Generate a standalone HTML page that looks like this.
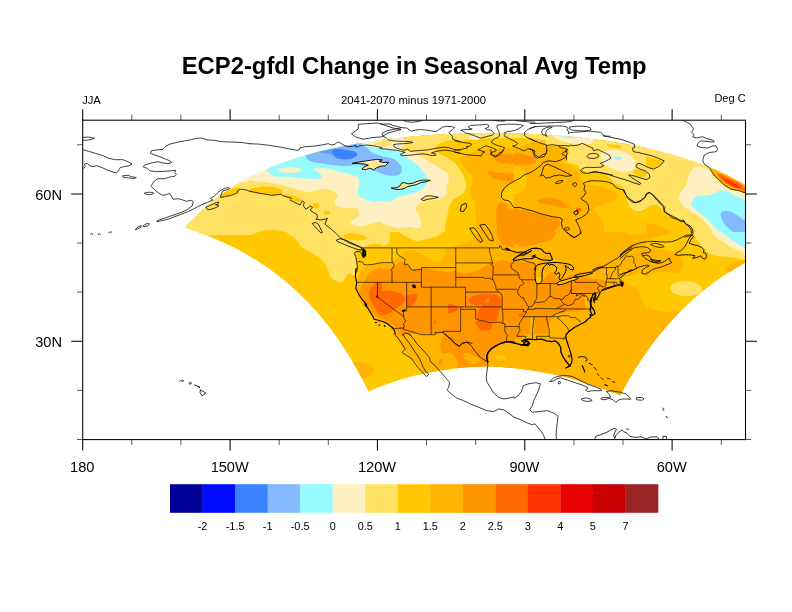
<!DOCTYPE html>
<html><head><meta charset="utf-8"><title>ECP2-gfdl Change in Seasonal Avg Temp</title>
<style>
html,body{margin:0;padding:0;background:#fff;}
body{width:792px;height:612px;overflow:hidden;position:relative;font-family:"Liberation Sans",sans-serif;color:#000;}
svg{position:absolute;left:0;top:0;will-change:transform;}
text{font-family:"Liberation Sans",sans-serif;fill:#000;}
</style></head><body>
<svg width="792" height="612" viewBox="0 0 792 612">
<rect width="792" height="612" fill="#fff"/>
<defs><clipPath id="clip"><rect x="82.7" y="120.2" width="662.8" height="319.4"/></clipPath></defs>
<g clip-path="url(#clip)">
<defs><clipPath id="dom"><path d="M184.5 227.6L188.7 222.9L193.1 218.3L197.8 213.7L202.8 209.1L208.1 204.5L213.7 200.0L219.7 195.5L226.1 191.0L232.9 186.6L240.1 182.3L247.8 178.1L256.1 173.9L264.9 169.9L274.4 165.9L284.5 162.1L295.3 158.4L306.8 154.9L319.1 151.6L332.2 148.5L346.2 145.6L360.9 142.9L376.5 140.6L392.8 138.5L409.8 136.7L427.5 135.3L445.6 134.2L464.2 133.4L483.0 133.1L501.8 133.1L520.6 133.6L539.1 134.4L557.2 135.5L574.7 137.0L591.6 138.9L607.7 141.0L623.1 143.5L637.7 146.2L651.4 149.1L664.3 152.3L676.5 155.7L687.9 159.2L698.5 162.9L708.5 166.8L717.8 170.7L726.5 174.8L734.6 179.0L742.3 183.2L749.4 187.6L756.1 192.0L762.4 196.4L768.3 200.9L773.9 205.5L779.1 210.0L784.0 214.6L788.7 219.3L793.0 223.9L797.2 228.6L801.1 233.2L804.8 237.9L804.8 237.9L799.1 239.7L793.5 241.6L788.0 243.5L782.6 245.5L777.4 247.6L772.3 249.7L767.2 251.9L762.3 254.1L757.6 256.4L752.9 258.7L748.3 261.1L743.9 263.5L739.5 265.9L735.3 268.4L731.2 270.9L727.1 273.5L723.2 276.1L719.4 278.7L715.7 281.3L712.0 284.0L708.5 286.7L705.0 289.4L701.6 292.1L698.4 294.8L695.1 297.6L692.0 300.4L689.0 303.1L686.0 305.9L683.1 308.8L680.3 311.6L677.5 314.4L674.8 317.2L672.2 320.1L669.6 322.9L667.1 325.8L664.7 328.6L662.3 331.5L660.0 334.3L657.7 337.2L655.5 340.0L653.3 342.9L651.2 345.7L649.2 348.5L647.1 351.4L645.2 354.2L643.2 357.0L641.3 359.9L639.5 362.7L637.7 365.5L635.9 368.3L634.2 371.1L632.5 373.9L630.8 376.7L629.2 379.4L627.6 382.2L626.1 384.9L624.5 387.7L623.1 390.4L621.6 393.1L620.5 395.4L615.4 393.5L610.2 391.7L605.1 389.8L599.9 387.9L594.8 386.1L589.6 384.5L584.5 382.8L579.3 381.2L574.2 379.6L569.0 378.0L563.9 376.6L558.7 375.5L553.6 374.5L548.4 373.6L543.3 372.7L538.1 371.8L533.0 370.9L527.9 370.1L522.7 369.4L517.6 368.7L512.4 368.1L507.3 367.5L502.1 366.9L497.0 366.5L491.8 366.3L486.7 366.3L481.5 366.5L476.4 366.7L471.2 367.0L466.1 367.3L460.9 367.7L455.8 368.2L450.7 368.9L445.5 369.7L440.4 370.5L435.2 371.4L430.1 372.3L424.9 373.4L419.8 374.5L414.6 375.8L409.5 377.1L404.3 378.6L399.2 380.1L394.0 381.8L388.9 383.5L383.7 385.3L378.6 387.3L373.4 389.3L368.3 391.4L367.5 389.3L366.1 386.5L364.7 383.7L363.2 380.9L361.7 378.1L360.2 375.3L358.7 372.5L357.1 369.6L355.4 366.7L353.8 363.9L352.1 361.0L350.3 358.1L348.6 355.2L346.8 352.3L344.9 349.4L343.0 346.5L341.0 343.5L339.0 340.6L337.0 337.7L334.9 334.7L332.7 331.8L330.5 328.8L328.3 325.9L325.9 322.9L323.6 320.0L321.1 317.0L318.6 314.1L316.1 311.1L313.4 308.2L310.7 305.3L308.0 302.3L305.1 299.4L302.2 296.5L299.2 293.6L296.1 290.7L292.9 287.8L289.7 284.9L286.3 282.1L282.9 279.2L279.3 276.4L275.7 273.6L272.0 270.9L268.1 268.1L264.2 265.4L260.1 262.7L256.0 260.1L251.7 257.4L247.3 254.8L242.8 252.3L238.1 249.8L233.4 247.3L228.5 244.9L223.4 242.5L218.3 240.2L213.0 238.0L207.6 235.8L202.0 233.6L196.3 231.5L190.4 229.5L184.5 227.6Z"/></clipPath>
<clipPath id="t0"><rect x="118" y="130" width="132" height="102"/></clipPath>
<clipPath id="t1"><rect x="118" y="232" width="132" height="102"/></clipPath>
<clipPath id="t2"><rect x="250" y="130" width="132" height="102"/></clipPath>
<clipPath id="t3"><rect x="250" y="232" width="132" height="102"/></clipPath>
<clipPath id="t4"><rect x="250" y="334" width="132" height="102"/></clipPath>
<clipPath id="t5"><rect x="382" y="130" width="132" height="102"/></clipPath>
<clipPath id="t6"><rect x="382" y="232" width="132" height="102"/></clipPath>
<clipPath id="t7"><rect x="382" y="334" width="132" height="102"/></clipPath>
<clipPath id="t8"><rect x="514" y="130" width="132" height="102"/></clipPath>
<clipPath id="t9"><rect x="514" y="232" width="132" height="102"/></clipPath>
<clipPath id="t10"><rect x="514" y="334" width="132" height="102"/></clipPath>
<clipPath id="t11"><rect x="646" y="130" width="132" height="102"/></clipPath>
<clipPath id="t12"><rect x="646" y="232" width="132" height="102"/></clipPath>
<clipPath id="t13"><rect x="646" y="334" width="132" height="102"/></clipPath>
<clipPath id="t14"><rect x="82" y="130" width="132" height="102"/></clipPath>
<clipPath id="t15"><rect x="82" y="340" width="132" height="102"/></clipPath>
<clipPath id="t16"><rect x="290" y="170" width="132" height="102"/></clipPath>
<clipPath id="t17"><rect x="278" y="118" width="198" height="153"/></clipPath>
<clipPath id="t18"><rect x="345" y="150" width="100" height="51"/></clipPath>
<clipPath id="t19"><rect x="340" y="270" width="132" height="102"/></clipPath>
<clipPath id="t20"><rect x="380" y="120" width="80" height="62"/></clipPath>
<clipPath id="t21"><rect x="400" y="125" width="264" height="204"/></clipPath>
<clipPath id="t22"><rect x="455" y="120" width="80" height="62"/></clipPath>
<clipPath id="t23"><rect x="484" y="150" width="132" height="102"/></clipPath>
<clipPath id="t24"><rect x="500" y="232" width="132" height="102"/></clipPath>
<clipPath id="t25"><rect x="505" y="240" width="99" height="50"/></clipPath>
<clipPath id="t26"><rect x="530" y="120" width="80" height="62"/></clipPath>
<clipPath id="t27"><rect x="530" y="400" width="160" height="124"/></clipPath>
<clipPath id="t28"><rect x="570" y="135" width="80" height="62"/></clipPath>
<clipPath id="t29"><rect x="590" y="135" width="132" height="102"/></clipPath>
<clipPath id="t30"><rect x="620" y="190" width="132" height="102"/></clipPath>
</defs>
<g clip-path="url(#dom)">
<g clip-path="url(#t0)">
<rect x="117.5" y="129.5" width="133.0" height="103.0" fill="#ffe164"/>
<path d="M221.3 194.2C222.6 193.1 225.8 191.8 228.0 190.8C230.2 189.9 232.7 188.9 234.7 188.3C236.6 187.8 239.1 186.8 239.7 187.5C240.2 188.2 239.4 191.2 238.0 192.5C236.6 193.8 233.6 194.6 231.3 195.3C229.1 196.0 226.5 196.3 224.7 196.7C222.9 197.0 221.1 197.9 220.5 197.5C219.9 197.1 220.1 195.3 221.3 194.2Z" fill="#ffc800"/>
<path d="M241.3 180.0C242.2 179.0 247.2 177.6 250.0 176.7C252.8 175.7 256.7 173.9 258.0 174.2C259.3 174.4 259.3 177.4 258.0 178.3C256.7 179.3 252.2 179.3 250.0 180.0C247.8 180.7 246.1 182.5 244.7 182.5C243.2 182.5 240.4 181.0 241.3 180.0Z" fill="#fff0c3"/>
</g>
<g clip-path="url(#t1)">
<rect x="117.5" y="231.5" width="133.0" height="103.0" fill="#ffc800"/>
<path d="M184.7 225.3C194.7 224.4 245.8 223.7 258.0 225.3C270.2 226.9 259.3 233.4 258.0 235.0C256.7 236.6 254.4 235.0 250.0 235.0C245.6 235.0 236.7 235.0 231.3 235.0C226.0 235.0 221.9 235.0 218.0 235.0C214.1 235.0 211.3 235.6 208.0 235.0C204.7 234.4 201.9 232.8 198.0 231.2C194.1 229.6 174.7 226.3 184.7 225.3Z" fill="#ffe164"/>
</g>
<g clip-path="url(#t2)">
<rect x="249.5" y="129.5" width="133.0" height="103.0" fill="#ffe164"/>
<path d="M246.7 188.3C248.3 187.7 253.9 188.3 256.7 188.0C259.4 187.7 260.8 186.6 263.3 186.3C265.8 186.1 268.9 186.3 271.7 186.7C274.4 187.1 278.2 187.8 280.0 188.7C281.8 189.5 282.4 190.7 282.5 191.7C282.6 192.7 282.6 194.0 280.8 194.7C279.0 195.3 275.1 195.8 271.7 195.7C268.2 195.6 264.2 194.7 260.0 194.0C255.8 193.3 248.9 192.6 246.7 191.7C244.4 190.7 245.0 188.9 246.7 188.3Z" fill="#ffc800"/>
<path d="M282.5 195.0C283.3 194.6 288.8 194.9 291.7 195.5C294.6 196.1 298.3 197.7 300.0 198.8C301.7 199.9 302.8 201.6 302.0 202.0C301.2 202.4 297.6 201.8 295.0 201.2C292.4 200.5 288.8 199.0 286.7 198.0C284.6 197.0 281.7 195.4 282.5 195.0Z" fill="#ffc800"/>
<path d="M319.2 205.7C319.2 206.3 318.9 207.0 318.5 207.4C318.1 207.9 317.5 208.3 316.9 208.5C316.2 208.7 315.4 208.7 314.8 208.5C314.2 208.3 313.5 207.9 313.1 207.4C312.8 207.0 312.5 206.3 312.5 205.7C312.5 205.1 312.8 204.4 313.1 203.9C313.5 203.4 314.2 203.0 314.8 202.8C315.4 202.6 316.2 202.6 316.9 202.8C317.5 203.0 318.1 203.4 318.5 203.9C318.9 204.4 319.2 205.1 319.2 205.7Z" fill="#ffc800"/>
<path d="M330.0 212.7C330.0 213.1 329.7 213.5 329.4 213.8C329.0 214.2 328.3 214.4 327.7 214.6C327.1 214.7 326.3 214.7 325.6 214.6C325.0 214.4 324.4 214.2 324.0 213.8C323.6 213.5 323.3 213.1 323.3 212.7C323.3 212.3 323.6 211.8 324.0 211.5C324.4 211.2 325.0 210.9 325.6 210.8C326.3 210.6 327.1 210.6 327.7 210.8C328.3 210.9 329.0 211.2 329.4 211.5C329.7 211.8 330.0 212.3 330.0 212.7Z" fill="#ffc800"/>
<path d="M256.7 234.2C253.5 233.5 263.1 230.6 266.7 230.0C270.3 229.4 275.1 229.8 278.3 230.5C281.5 231.2 289.4 233.6 285.8 234.2C282.2 234.8 259.9 234.9 256.7 234.2Z" fill="#ffc800"/>
<path d="M243.3 180.5C244.4 190.0 246.7 180.2 250.0 180.5C253.3 180.8 259.2 181.5 263.3 182.0C267.5 182.5 271.1 182.9 275.0 183.7C278.9 184.4 282.8 185.3 286.7 186.3C290.6 187.3 294.7 188.7 298.3 189.7C301.9 190.6 305.6 191.8 308.3 192.0C311.1 192.2 313.1 191.3 315.0 190.8C316.9 190.4 317.8 189.4 320.0 189.2C322.2 189.0 325.8 189.1 328.3 189.7C330.8 190.2 333.5 191.2 335.0 192.5C336.5 193.8 337.6 196.0 337.5 197.5C337.4 199.0 334.3 200.3 334.2 201.7C334.0 203.1 334.9 204.7 336.7 205.8C338.5 206.9 342.2 208.1 345.0 208.3C347.8 208.6 351.2 207.4 353.3 207.5C355.4 207.6 356.5 207.9 357.5 209.2C358.5 210.4 359.7 213.3 359.2 215.0C358.6 216.7 355.7 218.1 354.2 219.2C352.6 220.3 349.9 220.6 350.0 221.7C350.1 222.7 353.3 224.6 355.0 225.3C356.7 226.1 357.3 226.6 360.0 226.3C362.7 226.1 368.1 224.4 371.3 223.7C374.5 222.9 377.4 222.2 379.2 222.0C380.9 221.8 380.2 222.4 382.0 222.7C383.8 222.9 388.7 239.9 390.0 223.3C391.3 206.8 414.4 140.0 390.0 123.3C365.6 106.7 267.8 113.8 243.3 123.3C218.9 132.9 242.2 171.0 243.3 180.5Z" fill="#fff0c3"/>
<path d="M266.7 163.3C266.7 171.0 266.1 167.8 266.7 169.5C267.2 171.2 268.6 172.5 270.0 173.7C271.4 174.9 271.9 176.2 275.0 176.7C278.1 177.2 284.2 176.4 288.3 176.7C292.5 176.9 295.8 177.9 300.0 178.3C304.2 178.8 309.9 179.2 313.3 179.2C316.8 179.1 319.5 178.8 320.8 178.0C322.2 177.2 322.0 175.8 321.3 174.7C320.6 173.5 318.1 172.0 316.7 171.2C315.3 170.3 313.0 170.1 313.0 169.7C313.0 169.2 314.4 168.5 316.7 168.3C318.9 168.2 322.8 168.1 326.7 168.7C330.6 169.2 336.1 170.8 340.0 171.7C343.9 172.6 347.1 173.2 350.0 174.2C352.9 175.1 356.0 176.0 357.5 177.5C359.0 179.0 359.2 181.0 359.2 183.3C359.2 185.7 357.4 189.4 357.5 191.7C357.6 193.9 358.5 195.3 360.0 196.7C361.5 198.1 364.4 199.1 366.7 200.0C368.9 200.9 370.8 201.9 373.3 202.0C375.9 202.1 379.2 201.0 382.0 200.8C384.8 200.6 388.7 213.7 390.0 200.8C391.3 187.9 410.6 136.2 390.0 123.3C369.4 110.4 287.2 116.7 266.7 123.3C246.1 130.0 266.7 155.6 266.7 163.3Z" fill="#96faff"/>
<path d="M301.7 170.2C301.7 170.6 301.1 171.2 300.1 171.6C299.1 172.0 297.5 172.4 295.8 172.6C294.1 172.9 291.9 173.0 290.0 173.0C288.1 173.0 285.9 172.9 284.2 172.6C282.5 172.4 280.9 172.0 279.9 171.6C278.9 171.2 278.3 170.6 278.3 170.2C278.3 169.7 278.9 169.2 279.9 168.8C280.9 168.3 282.5 167.9 284.2 167.7C285.9 167.5 288.1 167.3 290.0 167.3C291.9 167.3 294.1 167.5 295.8 167.7C297.5 167.9 299.1 168.3 300.1 168.8C301.1 169.2 301.7 169.7 301.7 170.2Z" fill="#fff0c3"/>
<path d="M305.8 146.7C305.8 152.2 305.4 154.2 305.8 156.3C306.2 158.5 307.1 158.7 308.3 159.7C309.6 160.6 311.1 161.4 313.3 162.0C315.6 162.6 318.9 162.9 321.7 163.3C324.4 163.8 326.9 164.2 330.0 164.7C333.1 165.1 336.7 165.6 340.0 165.8C343.3 166.0 347.2 166.1 350.0 165.8C352.8 165.6 354.4 164.2 356.7 164.2C358.9 164.2 361.1 165.0 363.3 165.8C365.6 166.7 367.8 168.2 370.0 169.2C372.2 170.1 374.7 170.9 376.7 171.7C378.7 172.4 379.8 173.3 382.0 173.7C384.2 174.0 388.7 176.6 390.0 173.7C391.3 170.7 391.3 158.8 390.0 155.8C388.7 152.9 383.9 156.0 382.0 155.8C380.1 155.7 380.1 155.6 378.3 155.0C376.6 154.4 373.6 153.8 371.7 152.5C369.7 151.2 368.3 149.0 366.7 147.5C365.0 146.0 362.5 147.7 361.7 143.7C360.8 139.6 371.0 126.7 361.7 123.3C352.4 119.9 315.1 119.4 305.8 123.3C296.5 127.2 305.8 141.2 305.8 146.7Z" fill="#82b9ff"/>
<path d="M363.3 140.0C363.3 143.5 362.2 143.0 363.3 144.2C364.4 145.3 367.8 146.4 370.0 147.0C372.2 147.6 374.7 147.7 376.7 147.7C378.7 147.6 379.8 146.8 382.0 146.7C384.2 146.5 388.7 150.6 390.0 146.7C391.3 142.8 394.4 127.2 390.0 123.3C385.6 119.4 367.8 120.6 363.3 123.3C358.9 126.1 363.3 136.5 363.3 140.0Z" fill="#fff0c3"/>
<path d="M373.3 144.5C373.3 144.0 375.2 142.9 376.7 142.3C378.1 141.8 379.8 141.6 382.0 141.3C384.2 141.1 388.7 140.2 390.0 141.0C391.3 141.8 391.3 145.1 390.0 145.8C388.7 146.6 384.2 145.4 382.0 145.3C379.8 145.2 378.1 145.5 376.7 145.3C375.2 145.2 373.3 145.0 373.3 144.5Z" fill="#ffe164"/>
<path d="M319.2 152.0C319.3 151.4 324.0 150.6 326.3 150.2C328.7 149.7 331.0 149.3 333.3 149.2C335.7 149.0 338.0 149.2 340.3 149.3C342.7 149.5 345.3 149.9 347.5 150.2C349.7 150.5 351.9 150.6 353.5 151.2C355.1 151.8 356.8 152.8 357.2 153.7C357.5 154.6 356.8 155.8 355.7 156.7C354.6 157.5 352.6 158.2 350.5 158.7C348.4 159.1 345.5 159.2 343.3 159.2C341.1 159.1 338.8 158.7 337.3 158.2C335.8 157.7 335.3 156.8 334.3 156.2C333.3 155.5 332.8 154.6 331.3 154.2C329.8 153.8 327.4 154.0 325.3 153.7C323.3 153.3 319.0 152.6 319.2 152.0Z" fill="#5f9cff"/>
<path d="M333.3 149.3C334.6 148.8 338.0 149.2 340.3 149.3C342.7 149.5 345.3 149.9 347.5 150.2C349.7 150.5 351.9 150.6 353.5 151.2C355.1 151.8 356.8 152.8 357.2 153.7C357.5 154.6 356.8 155.8 355.7 156.7C354.6 157.5 352.6 158.2 350.5 158.7C348.4 159.1 345.5 159.2 343.3 159.2C341.1 159.1 338.8 158.7 337.3 158.2C335.8 157.6 335.1 156.8 334.3 155.8C333.5 154.9 332.7 153.6 332.5 152.5C332.3 151.4 332.0 149.9 333.3 149.3Z" fill="#3c82ff"/>
</g>
<g clip-path="url(#t3)">
<rect x="249.5" y="231.5" width="133.0" height="103.0" fill="#ffc800"/>
<path d="M243.3 225.3C218.9 226.9 242.2 233.4 243.3 235.0C244.4 236.6 248.1 235.2 250.0 235.0C251.9 234.8 253.6 234.3 255.0 233.7C256.4 233.0 257.8 232.6 258.3 231.2C258.9 229.8 253.7 226.3 258.3 225.3C262.9 224.4 281.2 224.4 285.8 225.3C290.4 226.3 285.1 229.6 285.8 231.2C286.5 232.8 288.2 233.5 290.0 235.0C291.8 236.5 294.7 238.0 296.7 240.0C298.6 242.0 299.4 245.0 301.7 247.0C303.9 249.0 307.2 250.3 310.0 252.0C312.8 253.7 315.8 255.1 318.3 257.0C320.8 258.9 323.3 261.4 325.0 263.7C326.7 265.9 327.5 268.1 328.3 270.3C329.2 272.6 328.9 275.3 330.0 277.0C331.1 278.7 333.2 279.4 335.0 280.3C336.8 281.3 339.3 282.8 340.8 282.8C342.4 282.8 343.2 281.6 344.2 280.3C345.1 279.1 345.7 276.4 346.7 275.3C347.6 274.2 348.8 273.6 350.0 273.7C351.2 273.7 353.3 276.2 354.2 275.7C355.1 275.1 354.9 272.6 355.3 270.3C355.8 268.1 356.7 264.8 356.7 262.0C356.7 259.2 355.8 255.5 355.3 253.7C354.8 251.9 352.9 252.0 353.7 251.2C354.4 250.3 358.1 249.4 360.0 248.7C361.9 248.0 363.3 247.7 365.0 247.0C366.7 246.3 368.1 245.1 370.0 244.5C371.9 243.9 374.7 243.7 376.7 243.7C378.7 243.7 379.8 244.4 382.0 244.5C384.2 244.6 388.7 247.7 390.0 244.5C391.3 241.3 414.4 228.5 390.0 225.3C365.6 222.1 267.8 223.7 243.3 225.3Z" fill="#ffe164"/>
<path d="M343.3 235.3C344.2 234.4 347.2 233.5 350.0 233.3C352.8 233.2 357.2 233.8 360.0 234.5C362.8 235.2 366.1 236.9 366.7 237.8C367.2 238.8 365.6 240.0 363.3 240.3C361.1 240.7 356.4 240.3 353.3 240.0C350.3 239.7 346.7 239.4 345.0 238.7C343.3 237.9 342.5 236.2 343.3 235.3Z" fill="#ffc800"/>
<path d="M390.0 262.0C388.7 251.7 384.8 262.4 382.0 262.8C379.2 263.2 376.2 263.7 373.3 264.5C370.5 265.3 367.2 266.4 365.0 267.8C362.8 269.2 361.2 271.0 360.0 272.8C358.8 274.6 358.1 276.3 357.5 278.7C356.9 281.0 356.7 284.2 356.7 287.0C356.7 289.8 356.8 292.8 357.5 295.3C358.2 297.8 359.3 299.5 360.8 302.0C362.4 304.5 364.6 307.6 366.7 310.3C368.8 313.1 371.4 316.6 373.3 318.7C375.3 320.8 376.9 322.0 378.3 322.8C379.8 323.7 380.1 323.4 382.0 323.7C383.9 323.9 388.7 334.8 390.0 324.5C391.3 314.2 391.3 272.3 390.0 262.0Z" fill="#ffb400"/>
<path d="M390.0 267.3C388.7 258.6 384.5 267.5 382.0 267.8C379.5 268.2 377.3 268.5 375.0 269.5C372.7 270.5 370.0 271.9 368.3 273.7C366.7 275.5 366.1 278.4 365.0 280.3C363.9 282.3 362.5 283.4 361.7 285.3C360.8 287.3 359.9 289.8 360.0 292.0C360.1 294.2 361.4 296.4 362.5 298.7C363.6 300.9 365.1 303.1 366.7 305.3C368.2 307.6 370.0 310.1 371.7 312.0C373.3 313.9 374.9 315.8 376.7 317.0C378.4 318.2 379.8 318.9 382.0 319.5C384.2 320.1 388.7 329.0 390.0 320.3C391.3 311.6 391.3 276.1 390.0 267.3Z" fill="#ff9600"/>
<path d="M390.0 281.7C388.7 276.0 384.2 281.8 382.0 282.0C379.8 282.2 378.4 282.0 376.7 282.8C374.9 283.7 372.9 285.5 371.7 287.0C370.4 288.5 369.4 290.1 369.2 292.0C368.9 293.9 369.3 296.4 370.0 298.7C370.7 300.9 372.1 303.1 373.3 305.3C374.6 307.6 376.1 310.3 377.5 312.0C378.9 313.7 379.9 314.6 382.0 315.3C384.1 316.0 388.7 321.8 390.0 316.2C391.3 310.6 391.3 287.4 390.0 281.7Z" fill="#ff6900"/>
</g>
<g clip-path="url(#t4)">
<rect x="249.5" y="333.5" width="133.0" height="103.0" fill="#ffc800"/>
<path d="M350.0 362.3C351.7 361.0 359.9 362.2 363.3 362.7C366.8 363.1 369.0 363.6 370.8 364.8C372.6 366.0 374.0 368.2 374.2 369.8C374.3 371.5 373.2 373.5 371.7 374.8C370.1 376.1 367.2 376.8 365.0 377.7C362.8 378.5 360.3 381.0 358.3 379.8C356.4 378.7 354.7 373.6 353.3 370.7C351.9 367.8 348.3 363.7 350.0 362.3Z" fill="#ffb400"/>
</g>
<g clip-path="url(#t5)">
<rect x="381.5" y="129.5" width="133.0" height="103.0" fill="#ffb400"/>
<path d="M495.3 155.0C497.2 154.3 502.2 154.2 505.3 154.2C508.4 154.2 511.2 154.9 514.0 155.0C516.8 155.1 520.7 153.5 522.0 155.0C523.3 156.5 523.3 162.6 522.0 164.2C520.7 165.7 516.8 164.3 514.0 164.2C511.2 164.0 508.2 163.8 505.3 163.3C502.5 162.9 498.9 162.5 497.0 161.7C495.1 160.8 494.3 159.4 494.0 158.3C493.7 157.2 493.4 155.7 495.3 155.0Z" fill="#ff9600"/>
<path d="M488.7 171.7C490.2 171.1 494.4 172.1 498.7 172.5C502.9 172.9 510.1 173.9 514.0 174.2C517.9 174.4 520.7 172.9 522.0 174.2C523.3 175.5 523.3 180.8 522.0 182.0C520.7 183.2 516.8 181.9 514.0 181.7C511.2 181.5 508.4 181.2 505.3 180.8C502.2 180.4 498.0 180.0 495.3 179.2C492.7 178.3 490.6 177.1 489.5 175.8C488.4 174.6 487.1 172.2 488.7 171.7Z" fill="#ff9600"/>
<path d="M498.7 203.3C500.2 201.7 503.7 202.5 505.3 203.3C507.0 204.2 507.2 207.2 508.7 208.3C510.1 209.4 511.8 209.7 514.0 210.0C516.2 210.3 520.7 205.3 522.0 210.0C523.3 214.7 526.2 233.6 522.0 238.3C517.8 243.1 501.2 239.4 497.0 238.3C492.8 237.3 497.1 234.5 497.0 232.0C496.9 229.5 496.8 226.4 496.7 223.3C496.5 220.2 495.8 216.7 496.2 213.3C496.5 210.0 497.1 205.0 498.7 203.3Z" fill="#ff9600"/>
<path d="M522.0 180.0C520.7 175.6 516.2 180.0 514.0 180.8C511.8 181.7 510.4 183.5 508.7 185.0C506.9 186.5 504.9 188.3 503.7 190.0C502.4 191.7 501.3 193.3 501.2 195.0C501.0 196.7 501.6 198.6 502.8 200.0C504.1 201.4 506.8 202.2 508.7 203.3C510.5 204.4 511.8 206.0 514.0 206.7C516.2 207.4 520.7 211.9 522.0 207.5C523.3 203.1 523.3 184.4 522.0 180.0Z" fill="#ffc800"/>
<path d="M522.0 123.3C546.4 127.4 523.3 143.8 522.0 148.0C520.7 152.2 517.9 148.2 514.0 148.3C510.1 148.4 503.4 148.4 498.7 148.7C493.9 148.9 489.2 149.2 485.3 149.7C481.4 150.2 478.7 150.8 475.3 151.7C472.0 152.6 467.8 153.8 465.3 155.0C462.8 156.2 460.6 157.2 460.3 159.2C460.1 161.1 462.0 164.3 463.7 166.7C465.3 169.0 468.8 171.1 470.3 173.3C471.9 175.6 472.8 177.5 472.8 180.0C472.8 182.5 470.5 185.6 470.3 188.3C470.2 191.1 471.2 194.2 472.0 196.7C472.8 199.2 474.8 200.6 475.3 203.3C475.9 206.1 475.2 210.0 475.3 213.3C475.5 216.7 476.2 220.2 476.2 223.3C476.2 226.4 475.5 229.5 475.3 232.0C475.2 234.5 492.0 237.3 475.3 238.3C458.7 239.4 392.0 257.5 375.3 238.3C358.7 219.2 350.9 142.5 375.3 123.3C399.8 104.2 497.6 119.2 522.0 123.3Z" fill="#ffc800"/>
<path d="M522.0 123.3C546.4 125.7 523.3 135.1 522.0 137.5C520.7 139.9 517.9 137.9 514.0 138.0C510.1 138.1 503.4 138.2 498.7 138.3C493.9 138.4 489.2 138.5 485.3 138.7C481.4 138.8 478.7 138.9 475.3 139.2C472.0 139.4 469.2 140.1 465.3 140.3C461.4 140.5 455.6 140.1 452.0 140.3C448.4 140.6 446.0 140.9 443.7 141.7C441.3 142.4 439.2 143.8 437.8 145.0C436.4 146.2 435.2 147.8 435.3 149.2C435.5 150.6 436.7 151.9 438.7 153.3C440.6 154.7 444.2 155.8 447.0 157.5C449.8 159.2 453.0 161.0 455.3 163.3C457.7 165.7 459.5 168.9 461.2 171.7C462.8 174.4 464.5 177.4 465.3 180.0C466.2 182.6 466.7 185.1 466.2 187.5C465.6 189.9 464.1 192.2 462.0 194.2C459.9 196.1 455.8 197.4 453.7 199.2C451.6 201.0 450.5 202.6 449.5 205.0C448.5 207.4 448.5 210.3 447.8 213.3C447.2 216.4 446.1 220.2 445.7 223.3C445.2 226.4 445.1 229.5 445.0 232.0C444.9 234.5 456.6 237.3 445.0 238.3C433.4 239.4 386.9 257.5 375.3 238.3C363.7 219.2 350.9 142.5 375.3 123.3C399.8 104.2 497.6 121.0 522.0 123.3Z" fill="#ffe164"/>
<path d="M481.3 137.7C481.3 138.1 480.9 138.7 480.1 139.0C479.4 139.4 478.1 139.7 477.0 139.9C475.8 140.0 474.2 140.0 473.0 139.9C471.9 139.7 470.6 139.4 469.9 139.0C469.1 138.7 468.7 138.1 468.7 137.7C468.7 137.2 469.1 136.7 469.9 136.3C470.6 135.9 471.9 135.6 473.0 135.4C474.2 135.3 475.8 135.3 477.0 135.4C478.1 135.6 479.4 135.9 480.1 136.3C480.9 136.7 481.3 137.2 481.3 137.7Z" fill="#fff0c3"/>
<path d="M403.7 123.3C408.4 125.7 403.4 134.2 403.7 137.5C403.9 140.8 405.6 141.5 405.3 143.3C405.1 145.1 402.3 147.1 402.0 148.3C401.7 149.6 401.4 150.0 403.7 150.8C405.9 151.7 411.7 151.9 415.3 153.3C418.9 154.7 421.7 156.9 425.3 159.2C428.9 161.4 433.4 164.3 437.0 166.7C440.6 169.0 445.1 171.1 447.0 173.3C448.9 175.6 448.8 177.8 448.7 180.0C448.5 182.2 446.4 184.6 446.2 186.7C445.9 188.8 447.4 190.8 447.0 192.5C446.6 194.2 445.3 195.4 443.7 196.7C442.0 197.9 439.9 199.3 437.0 200.0C434.1 200.7 429.4 200.2 426.3 201.0C423.2 201.8 420.1 203.2 418.3 204.5C416.5 205.8 415.5 206.9 415.5 208.5C415.5 210.1 417.4 212.1 418.3 214.3C419.3 216.6 421.2 219.9 421.3 222.2C421.4 224.4 420.9 227.2 418.8 228.0C416.7 228.8 412.0 227.0 408.7 227.0C405.3 227.0 402.1 228.2 398.8 228.0C395.6 227.8 391.8 226.8 389.0 226.0C386.2 225.2 384.3 223.9 382.0 223.3C379.7 222.7 376.4 239.2 375.3 222.5C374.2 205.8 370.6 139.9 375.3 123.3C380.1 106.8 398.9 121.0 403.7 123.3Z" fill="#fff0c3"/>
<path d="M380.3 140.3C381.4 139.3 385.1 139.6 387.0 140.0C388.9 140.4 391.7 141.5 392.0 142.5C392.3 143.5 390.6 145.2 388.7 145.8C386.7 146.5 381.7 147.2 380.3 146.3C378.9 145.4 379.2 141.4 380.3 140.3Z" fill="#ffe164"/>
<path d="M375.3 148.7C376.4 140.0 379.2 148.5 382.0 148.7C384.8 148.8 388.9 149.2 392.0 149.7C395.1 150.2 397.8 150.4 400.3 151.7C402.8 153.0 404.5 155.6 407.0 157.5C409.5 159.4 412.8 161.2 415.3 163.3C417.8 165.4 420.1 167.5 422.0 170.0C423.9 172.5 426.3 175.8 427.0 178.3C427.7 180.8 427.3 183.1 426.2 185.0C425.1 186.9 423.0 188.5 420.3 190.0C417.7 191.5 413.9 193.1 410.3 194.2C406.7 195.3 401.7 195.6 398.7 196.7C395.6 197.8 393.9 199.9 392.0 200.8C390.1 201.7 388.7 202.0 387.0 202.0C385.3 202.0 383.9 201.0 382.0 200.8C380.1 200.6 376.4 209.5 375.3 200.8C374.2 192.1 374.2 157.4 375.3 148.7Z" fill="#96faff"/>
<path d="M375.3 156.7C376.4 153.8 379.8 156.5 382.0 156.7C384.2 156.8 386.4 156.9 388.7 157.5C390.9 158.1 393.4 158.8 395.3 160.0C397.3 161.2 399.2 163.2 400.3 165.0C401.4 166.8 402.3 169.2 402.0 170.8C401.7 172.4 400.3 173.8 398.7 174.7C397.0 175.5 394.2 175.8 392.0 175.8C389.8 175.9 387.0 175.4 385.3 175.0C383.7 174.6 383.7 173.9 382.0 173.7C380.3 173.4 376.4 176.5 375.3 173.7C374.2 170.8 374.2 159.5 375.3 156.7Z" fill="#82b9ff"/>
</g>
<g clip-path="url(#t6)">
<rect x="381.5" y="231.5" width="133.0" height="103.0" fill="#ff9600"/>
<path d="M375.3 269.5C376.4 276.9 379.8 269.6 382.0 269.5C384.2 269.4 386.4 269.4 388.7 268.7C390.9 268.0 393.4 266.4 395.3 265.3C397.3 264.2 398.4 262.3 400.3 262.0C402.3 261.7 405.1 262.7 407.0 263.7C408.9 264.6 410.3 266.9 412.0 267.8C413.7 268.8 415.5 269.5 417.0 269.5C418.5 269.5 418.7 267.8 421.2 267.8C423.7 267.8 428.5 268.9 432.0 269.5C435.5 270.1 439.2 270.8 442.0 271.2C444.8 271.6 446.4 272.1 448.7 272.0C450.9 271.9 453.7 270.3 455.3 270.3C457.0 270.3 457.0 271.4 458.7 272.0C460.3 272.6 462.6 273.8 465.3 273.7C468.1 273.5 472.3 272.3 475.3 271.2C478.4 270.1 481.4 268.2 483.7 267.0C485.9 265.8 486.7 264.5 488.7 263.7C490.6 262.8 493.1 262.6 495.3 262.0C497.6 261.4 499.8 260.5 502.0 260.3C504.2 260.2 506.7 261.4 508.7 261.2C510.7 260.9 511.8 259.2 514.0 258.7C516.2 258.1 520.7 263.4 522.0 257.8C523.3 252.3 546.4 230.8 522.0 225.3C497.6 219.9 399.8 218.0 375.3 225.3C350.9 232.7 374.2 262.1 375.3 269.5Z" fill="#ffb400"/>
<path d="M375.3 262.8C376.4 269.1 379.5 263.0 382.0 262.8C384.5 262.7 388.1 262.6 390.3 262.0C392.6 261.4 393.7 260.6 395.3 259.5C397.0 258.4 398.7 256.6 400.3 255.3C402.0 254.1 403.4 252.8 405.3 252.0C407.3 251.2 410.1 250.3 412.0 250.3C413.9 250.3 415.1 251.2 417.0 252.0C418.9 252.8 421.4 254.1 423.7 255.3C425.9 256.6 428.1 258.2 430.3 259.5C432.6 260.8 435.1 262.7 437.0 262.8C438.9 263.0 440.8 261.9 442.0 260.3C443.2 258.8 443.9 255.6 444.5 253.7C445.1 251.7 444.1 249.8 445.3 248.7C446.6 247.6 449.5 247.7 452.0 247.0C454.5 246.3 457.6 245.3 460.3 244.5C463.1 243.7 466.3 243.4 468.7 242.0C471.1 240.6 473.5 238.9 474.7 236.2C475.8 233.4 492.2 227.1 475.7 225.3C459.1 223.5 392.1 219.1 375.3 225.3C358.6 231.6 374.2 256.6 375.3 262.8Z" fill="#ffc800"/>
<path d="M496.7 225.3C492.5 226.4 496.7 229.8 497.0 232.0C497.3 234.2 497.6 236.6 498.7 238.7C499.8 240.8 501.7 243.2 503.7 244.5C505.6 245.8 508.6 246.2 510.3 246.7C512.1 247.1 512.1 246.9 514.0 247.0C515.9 247.1 520.7 250.6 522.0 247.0C523.3 243.4 526.2 228.9 522.0 225.3C517.8 221.7 500.8 224.2 496.7 225.3Z" fill="#ff9600"/>
<path d="M375.3 230.3C377.6 228.0 386.3 230.1 388.7 232.0C391.0 233.9 390.1 239.8 389.5 242.0C388.9 244.2 387.7 244.6 385.3 245.3C383.0 246.0 377.0 248.7 375.3 246.2C373.7 243.7 373.1 232.7 375.3 230.3Z" fill="#ffe164"/>
<path d="M398.7 228.7C404.8 227.6 433.7 227.6 440.3 228.7C447.0 229.8 440.1 233.8 438.7 235.3C437.3 236.9 434.2 237.1 432.0 237.8C429.8 238.5 427.8 238.9 425.3 239.5C422.8 240.1 419.5 241.3 417.0 241.2C414.5 241.0 412.6 239.6 410.3 238.7C408.1 237.7 405.6 237.0 403.7 235.3C401.7 233.7 392.6 229.8 398.7 228.7Z" fill="#ffe164"/>
<path d="M375.3 291.2C376.4 287.1 379.8 291.3 382.0 291.2C384.2 291.0 386.2 290.2 388.7 290.3C391.2 290.5 394.5 291.2 397.0 292.0C399.5 292.8 402.3 293.9 403.7 295.3C405.1 296.7 405.9 298.7 405.3 300.3C404.8 302.0 402.3 303.7 400.3 305.3C398.4 307.0 395.6 308.9 393.7 310.3C391.7 311.7 390.6 312.8 388.7 313.7C386.7 314.5 384.2 315.1 382.0 315.3C379.8 315.6 376.4 319.4 375.3 315.3C374.2 311.3 374.2 295.2 375.3 291.2Z" fill="#ff6900"/>
<path d="M407.0 295.3C408.5 294.2 413.7 293.4 415.3 293.7C417.0 293.9 417.3 295.3 417.0 297.0C416.7 298.7 415.3 302.0 413.7 303.7C412.0 305.3 408.2 307.6 407.0 307.0C405.8 306.4 406.2 302.3 406.2 300.3C406.2 298.4 405.5 296.4 407.0 295.3Z" fill="#ff6900"/>
<path d="M468.7 298.7C469.6 297.4 472.6 296.2 475.3 295.3C478.1 294.5 482.0 293.8 485.3 293.7C488.7 293.5 492.8 293.8 495.3 294.5C497.8 295.2 499.4 296.0 500.3 297.8C501.3 299.6 501.4 303.0 501.2 305.3C500.9 307.7 499.4 309.5 498.7 312.0C498.0 314.5 498.7 318.5 497.0 320.3C495.3 322.1 491.4 322.7 488.7 322.8C485.9 323.0 482.3 322.1 480.3 321.2C478.4 320.2 477.3 318.8 477.0 317.0C476.7 315.2 477.8 312.3 478.7 310.3C479.5 308.4 482.6 306.2 482.0 305.3C481.4 304.5 477.4 305.8 475.3 305.3C473.2 304.9 470.6 303.9 469.5 302.8C468.4 301.7 467.7 299.9 468.7 298.7Z" fill="#ff6900"/>
<path d="M489.3 300.7C489.3 301.1 489.2 301.7 489.0 302.0C488.7 302.4 488.3 302.7 488.0 302.9C487.6 303.0 487.1 303.0 486.7 302.9C486.3 302.7 485.9 302.4 485.7 302.0C485.5 301.7 485.3 301.1 485.3 300.7C485.3 300.2 485.5 299.7 485.7 299.3C485.9 298.9 486.3 298.6 486.7 298.4C487.1 298.3 487.6 298.3 488.0 298.4C488.3 298.6 488.7 298.9 489.0 299.3C489.2 299.7 489.3 300.2 489.3 300.7Z" fill="#ff9600"/>
<path d="M476.2 321.2C477.4 320.3 482.7 321.6 485.3 322.0C488.0 322.4 491.2 322.4 492.0 323.7C492.8 324.9 492.0 328.4 490.3 329.5C488.7 330.6 484.1 330.8 482.0 330.3C479.9 329.9 478.8 328.5 477.8 327.0C476.9 325.5 474.9 322.0 476.2 321.2Z" fill="#ff6900"/>
<path d="M448.7 303.7C449.9 303.2 453.7 304.5 455.3 305.3C457.0 306.2 458.9 307.6 458.7 308.7C458.4 309.8 455.3 311.3 453.7 312.0C452.0 312.7 449.6 313.5 448.7 312.8C447.7 312.1 447.8 309.4 447.8 307.8C447.8 306.3 447.4 304.1 448.7 303.7Z" fill="#ff6900"/>
<path d="M436.2 322.3C436.2 322.7 436.1 323.2 436.0 323.5C435.9 323.8 435.7 324.1 435.6 324.2C435.4 324.4 435.2 324.4 435.1 324.2C434.9 324.1 434.8 323.8 434.7 323.5C434.6 323.2 434.5 322.7 434.5 322.3C434.5 321.9 434.6 321.5 434.7 321.2C434.8 320.8 434.9 320.6 435.1 320.4C435.2 320.3 435.4 320.3 435.6 320.4C435.7 320.6 435.9 320.8 436.0 321.2C436.1 321.5 436.2 321.9 436.2 322.3Z" fill="#ff6900"/>
<path d="M375.3 319.5C376.4 316.2 379.8 319.9 382.0 320.3C384.2 320.8 386.6 320.9 388.7 322.0C390.8 323.1 392.8 325.0 394.5 327.0C396.2 329.0 398.0 331.8 398.7 334.0C399.4 336.2 402.6 339.3 398.7 340.3C394.8 341.4 379.2 343.8 375.3 340.3C371.4 336.9 374.2 322.8 375.3 319.5Z" fill="#ffb400"/>
<path d="M375.3 322.0C376.4 319.1 379.6 322.2 382.0 323.0C384.4 323.8 388.1 325.6 390.0 326.7C391.9 327.7 392.5 327.9 393.3 329.2C394.2 330.4 394.7 332.1 395.0 334.0C395.3 335.9 398.3 339.3 395.0 340.3C391.7 341.4 378.6 343.4 375.3 340.3C372.1 337.3 374.2 324.9 375.3 322.0Z" fill="#ffc800"/>
</g>
<g clip-path="url(#t7)">
<rect x="381.5" y="333.5" width="133.0" height="103.0" fill="#ffc800"/>
<path d="M392.0 327.3C370.3 328.4 391.2 331.8 392.0 334.0C392.8 336.2 395.3 338.4 397.0 340.7C398.7 342.9 400.3 345.1 402.0 347.3C403.7 349.6 405.1 351.8 407.0 354.0C408.9 356.2 411.4 358.4 413.7 360.7C415.9 362.9 418.4 365.1 420.3 367.3C422.3 369.6 424.1 372.1 425.3 374.0C426.6 375.9 411.7 378.2 427.8 379.0C443.9 379.8 506.3 387.6 522.0 379.0C537.7 370.4 543.7 335.9 522.0 327.3C500.3 318.7 413.7 326.2 392.0 327.3Z" fill="#ffb400"/>
<path d="M443.7 327.3C430.6 328.4 444.1 331.8 443.7 334.0C443.2 336.2 441.7 338.2 441.2 340.7C440.6 343.2 439.9 346.8 440.3 349.0C440.8 351.2 442.3 353.4 443.7 354.0C445.1 354.6 447.0 352.1 448.7 352.3C450.3 352.6 452.3 354.3 453.7 355.7C455.1 357.1 456.3 359.0 457.0 360.7C457.7 362.3 457.3 363.7 457.8 365.7C458.4 367.6 449.6 371.2 460.3 372.3C471.0 373.4 511.7 379.8 522.0 372.3C532.3 364.8 535.1 334.8 522.0 327.3C508.9 319.8 456.7 326.2 443.7 327.3Z" fill="#ff9600"/>
<path d="M442.7 362.0C442.7 362.6 442.5 363.3 442.3 363.8C442.1 364.2 441.7 364.7 441.3 364.9C440.9 365.0 440.4 365.0 440.0 364.9C439.7 364.7 439.3 364.2 439.0 363.8C438.8 363.3 438.7 362.6 438.7 362.0C438.7 361.4 438.8 360.7 439.0 360.2C439.3 359.8 439.7 359.3 440.0 359.1C440.4 359.0 440.9 359.0 441.3 359.1C441.7 359.3 442.1 359.8 442.3 360.2C442.5 360.7 442.7 361.4 442.7 362.0Z" fill="#ff9600"/>
<path d="M463.7 353.2C464.8 352.6 468.1 353.3 470.3 354.0C472.6 354.7 475.3 356.1 477.0 357.3C478.7 358.6 480.9 360.4 480.3 361.5C479.8 362.6 475.9 364.1 473.7 364.0C471.4 363.9 468.7 361.8 467.0 360.7C465.3 359.6 464.2 358.6 463.7 357.3C463.1 356.1 462.6 353.7 463.7 353.2Z" fill="#ffb400"/>
<path d="M488.7 359.0C488.9 355.1 489.2 352.6 490.3 350.7C491.4 348.7 493.4 348.4 495.3 347.3C497.3 346.2 499.8 344.8 502.0 344.0C504.2 343.2 506.7 342.8 508.7 342.3C510.7 341.9 511.8 341.6 514.0 341.5C516.2 341.4 520.7 336.1 522.0 341.5C523.3 346.9 527.6 368.6 522.0 374.0C516.4 379.4 494.2 376.5 488.7 374.0C483.1 371.5 488.4 362.9 488.7 359.0Z" fill="#ffb400"/>
<path d="M506.2 357.8C506.2 358.4 505.7 359.0 505.1 359.5C504.5 359.9 503.4 360.4 502.4 360.5C501.3 360.7 500.0 360.7 499.0 360.5C497.9 360.4 496.9 359.9 496.2 359.5C495.6 359.0 495.2 358.4 495.2 357.8C495.2 357.3 495.6 356.6 496.2 356.2C496.9 355.7 497.9 355.3 499.0 355.1C500.0 355.0 501.3 355.0 502.4 355.1C503.4 355.3 504.5 355.7 505.1 356.2C505.7 356.6 506.2 357.3 506.2 357.8Z" fill="#ffc800"/>
</g>
<g clip-path="url(#t8)">
<rect x="513.5" y="129.5" width="133.0" height="103.0" fill="#ffb400"/>
<path d="M507.3 153.3C508.4 151.5 511.2 153.2 514.0 153.3C516.8 153.5 520.7 153.5 524.0 154.2C527.3 154.9 532.1 156.2 534.0 157.5C535.9 158.8 536.5 160.5 535.7 161.7C534.8 162.9 531.8 164.1 529.0 164.7C526.2 165.2 522.6 165.1 519.0 165.0C515.4 164.9 509.3 166.1 507.3 164.2C505.4 162.2 506.2 155.1 507.3 153.3Z" fill="#ff9600"/>
<path d="M507.3 207.0C508.4 202.0 510.1 207.5 514.0 208.3C517.9 209.2 525.1 210.8 530.7 212.0C536.2 213.2 542.9 214.8 547.3 215.8C551.8 216.9 555.1 217.1 557.3 218.3C559.6 219.6 560.9 221.7 561.0 223.3C561.1 225.0 558.8 226.9 557.7 228.3C556.5 229.8 554.8 230.3 554.0 232.0C553.2 233.7 560.9 237.3 553.2 238.3C545.4 239.4 515.0 243.6 507.3 238.3C499.7 233.1 506.2 212.0 507.3 207.0Z" fill="#ff9600"/>
<path d="M537.3 200.0C538.4 199.0 544.0 197.6 547.3 197.5C550.7 197.4 554.0 197.9 557.3 199.2C560.7 200.4 565.4 203.5 567.3 205.0C569.3 206.5 570.1 207.9 569.0 208.3C567.9 208.7 563.7 208.1 560.7 207.5C557.6 206.9 554.0 205.7 550.7 205.0C547.3 204.3 542.9 204.2 540.7 203.3C538.4 202.5 536.2 201.0 537.3 200.0Z" fill="#ff9600"/>
<path d="M581.3 210.0C581.3 210.4 581.1 210.9 580.8 211.2C580.5 211.5 580.0 211.8 579.5 211.9C579.0 212.0 578.3 212.0 577.8 211.9C577.3 211.8 576.8 211.5 576.5 211.2C576.2 210.9 576.0 210.4 576.0 210.0C576.0 209.6 576.2 209.1 576.5 208.8C576.8 208.5 577.3 208.2 577.8 208.1C578.3 208.0 579.0 208.0 579.5 208.1C580.0 208.2 580.5 208.5 580.8 208.8C581.1 209.1 581.3 209.6 581.3 210.0Z" fill="#ff6900"/>
<path d="M507.3 168.3C509.3 163.9 515.9 166.7 519.0 167.5C522.1 168.3 524.4 170.7 525.7 173.3C526.9 176.0 527.1 180.3 526.5 183.3C525.9 186.4 524.4 189.9 522.3 191.7C520.2 193.5 516.5 193.8 514.0 194.2C511.5 194.6 508.4 198.5 507.3 194.2C506.2 189.9 505.4 172.8 507.3 168.3Z" fill="#ffc800"/>
<path d="M507.3 149.2C508.4 153.5 511.8 149.6 514.0 149.2C516.2 148.8 517.9 147.8 520.7 146.7C523.4 145.6 527.6 143.3 530.7 142.5C533.7 141.7 536.5 141.4 539.0 141.7C541.5 141.9 544.3 143.3 545.7 144.2C547.1 145.0 545.4 146.4 547.3 146.7C549.3 146.9 554.3 145.6 557.3 145.8C560.4 146.1 564.0 147.1 565.7 148.3C567.3 149.6 567.6 151.7 567.3 153.3C567.1 155.0 564.8 156.8 564.0 158.3C563.2 159.9 561.2 161.2 562.3 162.5C563.4 163.8 568.2 164.3 570.7 165.8C573.2 167.4 575.7 169.6 577.3 171.7C579.0 173.8 579.6 176.4 580.7 178.3C581.8 180.3 581.8 182.2 584.0 183.3C586.2 184.4 590.7 184.3 594.0 185.0C597.3 185.7 600.7 186.4 604.0 187.5C607.3 188.6 611.8 190.1 614.0 191.7C616.2 193.2 617.6 195.0 617.3 196.7C617.1 198.3 614.8 200.3 612.3 201.7C609.8 203.1 605.1 203.9 602.3 205.0C599.6 206.1 596.5 206.7 595.7 208.3C594.8 210.0 596.2 212.8 597.3 215.0C598.4 217.2 601.1 218.8 602.3 221.7C603.6 224.5 604.4 229.2 604.8 232.0C605.2 234.8 596.6 237.3 604.8 238.3C613.0 239.4 645.8 257.5 654.0 238.3C662.2 219.2 678.4 142.5 654.0 123.3C629.6 104.2 531.8 119.0 507.3 123.3C482.9 127.6 506.2 144.9 507.3 149.2Z" fill="#ffc800"/>
<path d="M507.3 123.3C500.4 125.8 506.2 135.6 507.3 138.0C508.4 140.4 510.1 137.9 514.0 138.0C517.9 138.1 525.1 138.1 530.7 138.3C536.2 138.5 544.3 141.7 547.3 139.2C550.4 136.7 555.7 126.0 549.0 123.3C542.3 120.7 514.3 120.9 507.3 123.3Z" fill="#ffe164"/>
<path d="M547.3 123.3C529.6 125.6 547.6 133.6 547.3 136.7C547.1 139.7 545.7 140.1 545.7 141.7C545.7 143.2 545.4 145.2 547.3 145.8C549.3 146.4 554.0 145.1 557.3 145.3C560.7 145.6 565.4 146.2 567.3 147.5C569.3 148.8 569.3 151.5 569.0 153.3C568.7 155.1 565.7 156.7 565.7 158.3C565.7 160.0 567.1 162.2 569.0 163.3C570.9 164.4 575.4 164.0 577.3 165.0C579.3 166.0 579.0 168.1 580.7 169.2C582.3 170.3 584.0 171.0 587.3 171.7C590.7 172.4 596.8 172.2 600.7 173.3C604.6 174.4 608.4 176.7 610.7 178.3C612.9 180.0 612.1 181.9 614.0 183.3C615.9 184.7 620.4 184.4 622.3 186.7C624.3 188.9 624.6 193.6 625.7 196.7C626.8 199.7 627.6 202.8 629.0 205.0C630.4 207.2 632.1 209.0 634.0 210.0C635.9 211.0 638.7 211.2 640.7 211.0C642.7 210.8 643.8 209.3 646.0 208.7C648.2 208.1 652.7 221.7 654.0 207.5C655.3 193.3 671.8 137.4 654.0 123.3C636.2 109.3 565.1 121.1 547.3 123.3Z" fill="#ffe164"/>
<path d="M607.3 144.2C609.0 143.9 618.4 145.1 620.7 145.8C622.9 146.5 622.3 148.1 620.7 148.3C619.0 148.6 612.9 148.2 610.7 147.5C608.4 146.8 605.7 144.4 607.3 144.2Z" fill="#ffc800"/>
<path d="M634.0 169.2C636.1 169.0 642.7 171.1 646.0 171.7C649.3 172.2 652.7 171.5 654.0 172.5C655.3 173.5 655.3 176.7 654.0 177.5C652.7 178.3 648.8 177.8 646.0 177.5C643.2 177.2 639.5 176.7 637.3 175.8C635.2 175.0 633.7 173.6 633.2 172.5C632.6 171.4 631.9 169.3 634.0 169.2Z" fill="#ffc800"/>
<path d="M617.3 162.5C619.3 161.7 628.7 162.9 630.7 164.2C632.6 165.4 630.9 169.2 629.0 170.0C627.1 170.8 620.9 170.4 619.0 169.2C617.1 167.9 615.4 163.3 617.3 162.5Z" fill="#ffc800"/>
<path d="M555.7 133.3C561.2 133.1 582.9 135.0 589.0 136.7C595.1 138.3 593.7 142.1 592.3 143.3C590.9 144.6 585.4 144.4 580.7 144.2C575.9 143.9 568.2 142.6 564.0 141.7C559.8 140.7 557.1 139.7 555.7 138.3C554.3 136.9 550.1 133.6 555.7 133.3Z" fill="#fff0c3"/>
<path d="M602.3 151.7C604.6 150.6 609.8 149.7 614.0 150.0C618.2 150.3 623.7 151.4 627.3 153.3C630.9 155.3 634.6 158.9 635.7 161.7C636.8 164.4 636.2 168.3 634.0 170.0C631.8 171.7 626.2 171.9 622.3 171.7C618.4 171.4 613.7 169.7 610.7 168.3C607.6 166.9 605.7 165.3 604.0 163.3C602.3 161.4 600.9 158.6 600.7 156.7C600.4 154.7 600.1 152.8 602.3 151.7Z" fill="#fff0c3"/>
<path d="M562.3 136.3C564.8 136.2 574.8 136.7 577.3 137.0C579.8 137.3 579.8 138.2 577.3 138.3C574.8 138.4 564.8 138.0 562.3 137.7C559.8 137.3 559.8 136.4 562.3 136.3Z" fill="#96faff"/>
<path d="M622.3 158.3C622.3 158.7 622.0 159.0 621.4 159.3C620.9 159.6 620.0 159.8 619.1 159.9C618.2 160.0 617.1 160.0 616.2 159.9C615.4 159.8 614.4 159.6 613.9 159.3C613.4 159.0 613.0 158.7 613.0 158.3C613.0 158.0 613.4 157.6 613.9 157.4C614.4 157.1 615.4 156.8 616.2 156.7C617.1 156.6 618.2 156.6 619.1 156.7C620.0 156.8 620.9 157.1 621.4 157.4C622.0 157.6 622.3 158.0 622.3 158.3Z" fill="#96faff"/>
</g>
<g clip-path="url(#t9)">
<rect x="513.5" y="231.5" width="133.0" height="103.0" fill="#ffb400"/>
<path d="M507.3 242.0C508.4 245.1 511.2 242.9 514.0 243.7C516.8 244.4 519.8 246.7 524.0 246.7C528.2 246.6 534.6 244.4 539.0 243.3C543.4 242.2 548.0 241.3 550.7 240.0C553.3 238.7 554.0 237.8 554.8 235.3C555.7 232.9 563.6 227.0 555.7 225.3C547.8 223.7 515.4 222.6 507.3 225.3C499.3 228.1 506.2 238.9 507.3 242.0Z" fill="#ff9600"/>
<path d="M507.3 261.2C508.4 248.0 511.2 261.0 514.0 261.2C516.8 261.3 520.7 261.7 524.0 262.0C527.3 262.3 532.1 262.3 534.0 262.8C535.9 263.4 535.5 263.5 535.7 265.3C535.8 267.1 534.8 271.2 534.8 273.7C534.8 276.2 534.7 278.7 535.7 280.3C536.6 282.0 538.7 284.5 540.7 283.7C542.6 282.8 545.4 277.3 547.3 275.3C549.3 273.4 550.9 271.7 552.3 272.0C553.7 272.3 554.6 275.6 555.7 277.0C556.8 278.4 557.6 280.1 559.0 280.3C560.4 280.6 562.1 279.5 564.0 278.7C565.9 277.8 568.7 276.2 570.7 275.3C572.6 274.5 573.4 273.4 575.7 273.7C577.9 273.9 581.2 276.2 584.0 277.0C586.8 277.8 589.6 278.2 592.3 278.7C595.1 279.1 598.4 278.9 600.7 279.5C602.9 280.1 605.0 280.8 605.7 282.0C606.4 283.2 605.7 285.8 604.8 287.0C604.0 288.2 602.2 288.7 600.7 289.5C599.1 290.3 597.9 291.2 595.7 292.0C593.4 292.8 589.3 293.4 587.3 294.5C585.4 295.6 584.3 296.9 584.0 298.7C583.7 300.5 585.5 303.5 585.7 305.3C585.8 307.1 586.2 308.5 584.8 309.5C583.4 310.5 580.2 310.8 577.3 311.2C574.4 311.6 570.7 311.6 567.3 312.0C564.0 312.4 559.8 312.8 557.3 313.7C554.8 314.5 553.7 315.1 552.3 317.0C550.9 318.9 549.8 322.5 549.0 325.3C548.2 328.2 547.6 331.5 547.3 334.0C547.1 336.5 554.0 339.3 547.3 340.3C540.7 341.4 514.0 353.5 507.3 340.3C500.7 327.1 506.2 274.4 507.3 261.2Z" fill="#ff9600"/>
<path d="M530.7 318.7C531.4 315.8 533.3 315.9 534.0 317.0C534.7 318.1 535.0 322.5 534.8 325.3C534.7 328.2 534.0 332.6 533.2 334.0C532.3 335.4 530.2 336.6 529.8 334.0C529.4 331.4 530.0 321.5 530.7 318.7Z" fill="#ffb400"/>
<path d="M524.2 315.0C524.2 315.4 524.0 315.9 523.7 316.2C523.4 316.5 522.8 316.8 522.3 316.9C521.8 317.0 521.2 317.0 520.7 316.9C520.2 316.8 519.6 316.5 519.3 316.2C519.0 315.9 518.8 315.4 518.8 315.0C518.8 314.6 519.0 314.1 519.3 313.8C519.6 313.5 520.2 313.2 520.7 313.1C521.2 313.0 521.8 313.0 522.3 313.1C522.8 313.2 523.4 313.5 523.7 313.8C524.0 314.1 524.2 314.6 524.2 315.0Z" fill="#ff6900"/>
<path d="M654.0 265.3C652.7 258.8 648.8 266.4 646.0 267.8C643.2 269.2 640.2 272.3 637.3 273.7C634.5 275.1 631.5 275.5 629.0 276.2C626.5 276.9 623.2 276.9 622.3 277.8C621.5 278.8 622.6 280.8 624.0 282.0C625.4 283.2 628.4 284.2 630.7 285.3C632.9 286.4 635.7 287.0 637.3 288.7C639.0 290.3 639.7 293.1 640.7 295.3C641.6 297.6 642.3 300.3 643.2 302.0C644.1 303.7 644.2 304.5 646.0 305.3C647.8 306.2 652.7 313.7 654.0 307.0C655.3 300.3 655.3 271.9 654.0 265.3Z" fill="#ffc800"/>
<path d="M624.0 225.3C620.3 226.4 622.9 230.5 624.0 232.0C625.1 233.5 627.9 234.2 630.7 234.5C633.4 234.8 638.1 234.1 640.7 233.7C643.2 233.2 645.1 233.4 646.0 232.0C646.9 230.6 649.7 226.4 646.0 225.3C642.3 224.2 627.7 224.2 624.0 225.3Z" fill="#ffc800"/>
</g>
<g clip-path="url(#t10)">
<rect x="513.5" y="333.5" width="133.0" height="103.0" fill="#ffb400"/>
<path d="M507.3 327.3C510.1 325.4 521.2 326.1 524.0 327.3C526.8 328.6 524.6 333.0 524.0 334.8C523.4 336.6 522.3 337.5 520.7 338.2C519.0 338.9 516.2 338.9 514.0 339.0C511.8 339.1 508.4 340.9 507.3 339.0C506.2 337.1 504.6 329.3 507.3 327.3Z" fill="#ff9600"/>
</g>
<g clip-path="url(#t11)">
<rect x="645.5" y="129.5" width="133.0" height="103.0" fill="#ffe164"/>
<path d="M710.2 163.3L711.0 169.2L714.3 175.8L719.3 180.0L724.3 185.0L731.0 189.2L739.3 190.8L745.5 193.0L752.7 194.2L752.7 163.3Z" fill="#ffb400"/>
<path d="M717.7 173.7C718.5 173.2 722.4 175.1 726.0 176.7C729.6 178.3 736.3 181.5 739.3 183.3C742.4 185.1 743.2 186.2 744.3 187.5C745.4 188.8 747.4 191.2 746.0 191.3C744.6 191.5 739.1 189.5 736.0 188.3C732.9 187.1 730.2 185.7 727.7 184.2C725.2 182.6 722.7 180.9 721.0 179.2C719.3 177.4 716.8 174.1 717.7 173.7Z" fill="#ff6900"/>
<path d="M722.7 178.3C723.5 178.2 729.6 181.0 732.7 182.5C735.7 184.0 740.4 186.7 741.0 187.5C741.6 188.3 738.2 188.2 736.0 187.5C733.8 186.8 729.9 184.5 727.7 183.0C725.4 181.5 721.8 178.4 722.7 178.3Z" fill="#ff3200"/>
<path d="M694.3 167.5C696.3 166.2 698.5 166.6 701.0 167.0C703.5 167.4 707.1 168.4 709.3 170.0C711.6 171.6 712.7 174.7 714.3 176.7C716.0 178.6 717.4 179.9 719.3 181.7C721.3 183.5 723.8 186.1 726.0 187.5C728.2 188.9 730.4 189.7 732.7 190.3C734.9 191.0 737.2 190.8 739.3 191.3C741.5 191.8 743.3 192.9 745.5 193.3C747.7 193.8 751.5 186.7 752.7 194.2C753.9 201.7 759.3 231.0 752.7 238.3C746.0 245.7 719.3 239.4 712.7 238.3C706.0 237.3 713.8 234.5 712.7 232.0C711.6 229.5 708.2 225.9 706.0 223.3C703.8 220.8 701.8 218.6 699.3 216.7C696.8 214.7 693.5 213.3 691.0 211.7C688.5 210.0 686.3 208.6 684.3 206.7C682.4 204.7 680.0 202.2 679.3 200.0C678.6 197.8 679.1 195.8 680.2 193.3C681.3 190.8 684.5 188.1 686.0 185.0C687.5 181.9 687.9 177.9 689.3 175.0C690.7 172.1 692.4 168.8 694.3 167.5Z" fill="#fff0c3"/>
<path d="M692.7 200.0C693.4 198.6 694.3 197.4 696.0 196.7C697.7 196.0 699.9 196.2 702.7 195.8C705.4 195.4 709.9 195.0 712.7 194.2C715.4 193.3 717.4 191.5 719.3 190.8C721.3 190.1 722.7 189.7 724.3 190.0C726.0 190.3 727.4 191.5 729.3 192.5C731.3 193.5 733.3 194.6 736.0 195.8C738.7 197.1 742.7 199.0 745.5 200.0C748.3 201.0 751.5 195.3 752.7 201.7C753.9 208.1 758.2 232.2 752.7 238.3C747.1 244.4 724.9 239.4 719.3 238.3C713.8 237.3 720.4 234.2 719.3 232.0C718.2 229.8 715.2 227.6 712.7 225.0C710.2 222.4 707.1 219.2 704.3 216.7C701.6 214.2 698.1 211.9 696.0 210.0C693.9 208.1 692.4 206.7 691.8 205.0C691.3 203.3 692.0 201.4 692.7 200.0Z" fill="#96faff"/>
<path d="M721.0 213.3C721.7 211.9 724.1 211.0 726.0 210.8C727.9 210.7 730.4 211.5 732.7 212.5C734.9 213.5 737.2 215.3 739.3 216.7C741.5 218.1 743.3 219.7 745.5 220.8C747.7 221.9 751.5 220.4 752.7 223.3C753.9 226.2 756.0 235.8 752.7 238.3C749.3 240.8 736.0 239.4 732.7 238.3C729.3 237.3 733.8 234.1 732.7 232.0C731.6 229.9 727.8 228.0 726.0 225.8C724.2 223.7 722.7 221.3 721.8 219.2C721.0 217.1 720.3 214.7 721.0 213.3Z" fill="#82b9ff"/>
<path d="M639.3 155.8C640.4 154.3 643.2 156.1 646.0 156.7C648.8 157.2 653.2 158.3 656.0 159.2C658.8 160.0 662.4 160.6 662.7 161.7C662.9 162.8 659.6 164.7 657.7 165.8C655.7 166.9 652.9 168.3 651.0 168.3C649.1 168.3 647.9 166.2 646.0 165.8C644.1 165.4 640.4 167.5 639.3 165.8C638.2 164.2 638.2 157.4 639.3 155.8Z" fill="#ffc800"/>
<path d="M639.3 208.0C640.4 203.0 644.1 208.8 646.0 208.3C647.9 207.9 649.3 205.9 651.0 205.3C652.7 204.8 654.3 204.6 656.0 205.0C657.7 205.4 659.3 206.9 661.0 208.0C662.7 209.1 663.8 210.2 666.0 211.7C668.2 213.1 671.3 215.0 674.3 216.7C677.4 218.3 681.3 219.7 684.3 221.7C687.4 223.6 690.7 226.6 692.7 228.3C694.6 230.1 695.4 230.3 696.0 232.0C696.6 233.7 705.4 237.3 696.0 238.3C686.6 239.4 648.8 243.4 639.3 238.3C629.9 233.3 638.2 213.0 639.3 208.0Z" fill="#ffc800"/>
<path d="M639.3 223.3C640.4 220.8 643.2 223.1 646.0 223.3C648.8 223.6 652.7 224.2 656.0 225.0C659.3 225.8 663.5 227.2 666.0 228.3C668.5 229.5 670.2 230.3 671.0 232.0C671.8 233.7 676.3 237.3 671.0 238.3C665.7 239.4 644.6 240.8 639.3 238.3C634.1 235.8 638.2 225.8 639.3 223.3Z" fill="#ffb400"/>
</g>
<g clip-path="url(#t12)">
<rect x="645.5" y="231.5" width="133.0" height="103.0" fill="#ffc800"/>
<path d="M639.3 247.8C640.4 242.1 643.2 247.7 646.0 247.8C648.8 248.0 652.4 248.2 656.0 248.7C659.6 249.1 664.1 249.2 667.7 250.3C671.3 251.4 675.2 253.4 677.7 255.3C680.2 257.3 682.0 259.5 682.7 262.0C683.4 264.5 682.9 268.5 681.8 270.3C680.7 272.1 678.6 272.6 676.0 272.8C673.4 273.1 669.3 272.0 666.0 272.0C662.7 272.0 658.8 272.3 656.0 272.8C653.2 273.4 651.0 274.1 649.3 275.3C647.7 276.6 647.7 279.2 646.0 280.3C644.3 281.4 640.4 287.4 639.3 282.0C638.2 276.6 638.2 253.5 639.3 247.8Z" fill="#ffb400"/>
<path d="M639.3 225.3C644.6 223.0 665.7 224.2 671.0 225.3C676.3 226.4 672.4 230.3 671.0 232.0C669.6 233.7 665.7 234.4 662.7 235.3C659.6 236.3 655.4 237.1 652.7 237.8C649.9 238.5 648.2 239.2 646.0 239.5C643.8 239.8 640.4 241.9 639.3 239.5C638.2 237.1 634.1 227.7 639.3 225.3Z" fill="#ffb400"/>
<path d="M639.3 307.0C640.4 301.4 642.7 306.4 646.0 307.0C649.3 307.6 655.2 309.8 659.3 310.7C663.5 311.5 667.4 311.9 671.0 312.0C674.6 312.1 678.5 310.6 681.0 311.2C683.5 311.7 685.2 310.5 686.0 315.3C686.8 320.2 693.8 336.2 686.0 340.3C678.2 344.5 647.1 345.9 639.3 340.3C631.6 334.8 638.2 312.6 639.3 307.0Z" fill="#ffb400"/>
<path d="M726.0 267.8C726.4 266.7 727.7 265.5 729.3 264.5C731.0 263.5 733.3 262.8 736.0 262.0C738.7 261.2 742.7 260.1 745.5 259.5C748.3 258.9 751.5 257.7 752.7 258.7C753.9 259.6 753.9 264.1 752.7 265.3C751.5 266.6 747.7 265.3 745.5 266.2C743.3 267.0 741.8 269.2 739.3 270.3C736.9 271.4 733.1 272.7 731.0 272.8C728.9 273.0 727.7 272.0 726.8 271.2C726.0 270.3 725.6 268.9 726.0 267.8Z" fill="#ffb400"/>
<path d="M702.0 289.5C701.9 290.8 701.0 292.1 699.6 293.1C698.3 294.1 696.0 295.1 693.6 295.6C691.3 296.1 688.3 296.3 685.6 296.2C682.9 296.0 679.9 295.5 677.7 294.7C675.4 294.0 673.2 292.8 672.0 291.7C670.7 290.5 670.0 289.1 670.0 287.8C670.1 286.6 671.0 285.2 672.4 284.2C673.7 283.2 676.0 282.3 678.4 281.8C680.7 281.3 683.7 281.0 686.4 281.2C689.1 281.3 692.1 281.9 694.3 282.6C696.6 283.3 698.8 284.5 700.0 285.6C701.3 286.8 702.0 288.3 702.0 289.5Z" fill="#ffe164"/>
<path d="M693.5 225.3C683.6 226.4 693.1 229.8 693.5 232.0C693.9 234.2 694.5 236.2 696.0 238.7C697.5 241.2 700.4 244.5 702.7 247.0C704.9 249.5 706.8 252.1 709.3 253.7C711.8 255.2 714.3 255.6 717.7 256.2C721.0 256.7 725.7 256.6 729.3 257.0C732.9 257.4 736.6 258.1 739.3 258.7C742.0 259.2 743.3 259.9 745.5 260.3C747.7 260.8 751.5 267.0 752.7 261.2C753.9 255.3 762.5 231.3 752.7 225.3C742.8 219.4 703.4 224.2 693.5 225.3Z" fill="#ffe164"/>
<path d="M711.0 225.3C704.1 226.4 710.2 230.1 711.0 232.0C711.8 233.9 713.8 235.2 716.0 237.0C718.2 238.8 721.3 240.9 724.3 242.8C727.4 244.8 731.3 247.0 734.3 248.7C737.4 250.3 740.8 251.9 742.7 252.8C744.5 253.8 743.8 254.1 745.5 254.5C747.2 254.9 751.5 260.2 752.7 255.3C753.9 250.5 759.6 230.3 752.7 225.3C745.7 220.3 717.9 224.2 711.0 225.3Z" fill="#fff0c3"/>
<path d="M721.8 225.3C716.7 226.4 720.9 230.1 721.8 232.0C722.8 233.9 725.3 235.2 727.7 237.0C730.0 238.8 733.5 241.2 736.0 242.8C738.5 244.5 741.1 246.2 742.7 247.0C744.2 247.8 743.8 247.6 745.5 247.8C747.2 248.1 751.5 252.4 752.7 248.7C753.9 244.9 757.8 229.2 752.7 225.3C747.5 221.4 727.0 224.2 721.8 225.3Z" fill="#96faff"/>
</g>
<g clip-path="url(#t13)">
<rect x="645.5" y="333.5" width="133.0" height="103.0" fill="#ffb400"/>
</g>
<g clip-path="url(#t18)">
<path d="M352.6 163.3L358.9 162.0L365.2 161.1L371.5 160.1L376.6 159.5L382.2 159.8L379.1 161.4L382.9 162.4L388.6 162.4L385.4 165.8L380.4 166.2L376.6 167.7L373.4 170.2L372.1 168.9L369.6 168.3L365.8 169.6L362.0 169.2L363.9 167.0L368.4 165.2L365.2 164.1L358.9 163.6Z" fill="#fff0c3"/>
<path d="M365.2 164.1L368.4 165.2L363.9 167.0L365.8 168.9L372.1 168.7L376.6 167.4L380.4 165.9L382.9 162.6L376.6 161.6L371.5 162.0Z" fill="#ffe88c"/>
<path d="M391.7 188.1L396.8 187.6L399.9 186.0L401.8 183.1L404.3 182.6L408.1 183.8L413.2 183.1L418.2 180.9L423.3 180.1L430.2 180.3L425.8 181.8L420.8 182.6L416.3 184.7L411.9 185.6L407.5 186.6L404.3 188.5L400.6 189.4L396.1 189.4Z" fill="#ffe88c"/>
<path d="M421.4 199.2L425.8 196.1L430.2 195.7L434.6 196.5L438.4 197.3L433.4 198.6L428.3 199.2L423.9 200.5Z" fill="#ffe164"/>
</g>
<g clip-path="url(#t25)">
<path d="M556.9 283.1L560.0 281.2L564.4 280.0L568.8 278.8L573.1 277.5L576.9 277.2L578.1 278.5L575.0 280.0L570.6 281.2L566.2 283.1L561.9 284.4L558.1 284.8Z" fill="#ffc800"/>
<path d="M535.6 276.9L542.2 277.5L541.9 281.2L540.0 283.5L536.9 284.0L535.6 281.2Z" fill="#ffc800"/>
</g>
</g>
<path d="M250.0 143.7L241.3 142.5L231.3 142.0L221.3 141.7L214.7 140.3L208.0 140.0L201.3 138.0L196.3 138.3L191.3 139.7L184.7 140.8L176.3 142.5L169.7 144.2L166.3 145.8L163.0 149.2L156.3 150.0L151.3 150.8L150.5 153.3L154.7 155.0L159.7 156.7L164.7 158.7L169.7 160.8L171.7 162.5L168.0 163.8L163.0 163.0L158.0 161.7L151.3 163.0L144.7 165.0L143.0 166.7L147.2 168.3L149.7 170.8L156.3 171.7L164.7 171.3L171.3 170.8L175.5 170.3L174.7 172.5L176.3 174.2L174.7 176.3L169.7 177.0L164.7 178.7L158.0 178.7L154.7 180.8L152.2 184.2L151.3 186.7L153.8 189.2L158.0 192.5L162.2 195.3L166.3 194.7L169.7 193.3L171.3 195.8L173.0 199.2L178.0 198.7L183.0 200.0L186.3 201.3L191.3 200.3L193.3 201.7L192.2 205.8L188.0 209.2L183.0 211.7L176.3 214.2L171.3 215.8L166.3 217.5L161.3 219.2L157.2 220.8L156.7 221.7L161.3 220.8L168.0 219.2L174.7 216.7L181.3 214.2L188.0 211.7L194.7 208.3L201.3 205.0L208.0 202.0L213.0 200.0L210.5 198.3L214.7 195.8L218.0 192.5L221.3 190.0L224.7 188.3L228.8 187.5L229.7 188.7L226.3 190.0L223.0 190.8L221.3 194.2L220.5 197.5L224.7 196.7L231.3 195.3L237.2 193.0L238.3 190.0L241.3 189.2L246.3 190.0L250.0 191.3M206.3 207.0L211.3 205.0L216.3 202.5L218.8 202.0L218.0 204.2L215.5 204.7L218.8 205.8L216.3 207.5L211.3 209.2L208.0 209.7ZM144.7 193.0L148.8 192.2L153.0 192.5L153.3 193.8L149.7 194.7L145.5 194.2ZM123.0 175.8L128.0 175.3L131.3 176.7L136.3 177.5L133.8 178.7L129.7 178.0L123.8 177.5ZM135.5 229.2L138.8 226.3L141.3 225.8L140.5 227.5L136.3 229.5ZM143.0 225.8L147.2 223.3L149.3 223.7L148.0 225.8L143.8 226.7ZM90.5 234.3L91.7 233.7L93.0 234.5M98.0 234.3L99.7 233.8L100.7 234.5M108.8 232.8L111.0 231.7L111.7 232.3M250.0 143.7L260.0 144.2L266.7 145.0L278.3 146.7L288.3 148.7L296.7 150.3L299.2 150.0L300.0 147.8L305.0 146.7L313.3 146.2L321.7 145.0L328.3 143.7L331.7 145.0L335.0 144.2L337.5 142.0L340.8 143.3L345.0 145.8L348.3 146.7L353.3 146.3L355.3 145.0L356.0 147.2L360.0 145.8L366.7 145.0L373.3 145.8L382.0 147.5M250.0 191.3L260.0 193.3L271.7 195.3L280.8 194.2L283.3 195.8L291.7 198.3M394.5 334.0L398.7 339.0L402.0 344.0L405.3 349.0L402.0 352.3L407.0 355.7L412.0 359.0L415.3 364.0L417.8 367.3L422.0 371.5L425.7 375.7L427.0 376.5L428.7 374.0L425.7 371.5L422.8 366.5L421.2 362.3L418.7 357.3L415.3 352.3L412.0 347.3L408.7 342.3L405.3 338.2L402.8 334.0M409.5 334.0L413.7 339.0L417.0 344.0L422.0 349.0L425.7 353.2L429.5 357.3L430.3 361.5L435.3 365.7L440.3 371.5L445.3 377.3L449.5 382.3L448.7 387.3L447.0 389.8L450.3 393.2L457.0 398.2L463.7 400.7L470.3 404.0L478.7 407.3L487.0 410.7L493.7 411.5L498.7 409.0L503.7 409.8L508.7 413.2L514.0 417.3M445.3 334.0L450.3 339.0L455.3 344.0L459.5 346.5L462.0 343.2L467.0 342.3L471.2 345.7L475.3 351.5L480.3 357.3L485.3 360.7L488.7 361.5M514.0 342.3L509.2 341.7L505.0 342.0L500.0 343.7L495.0 346.3L490.8 349.2L488.0 352.5L486.7 356.7L487.5 361.7L487.8 365.7L487.0 370.7L486.2 377.3L487.0 382.3L490.3 387.3L493.7 393.2L498.7 397.3L503.7 399.0L508.7 398.2L514.0 397.0M570.2 356.3L569.9 357.0L569.2 357.3L568.5 357.0L568.2 356.3L568.5 355.6L569.2 355.3L569.9 355.6ZM597.3 373.2L599.0 375.7M600.7 377.3L603.2 379.8M607.3 378.2L609.8 379.0M612.3 381.5L614.8 382.3M549.8 381.5L553.2 378.2L557.3 376.5L562.3 375.7L567.3 375.7L572.3 376.5L577.3 379.0L582.3 381.5L587.3 384.0L592.3 385.7L596.5 387.3L600.7 389.0L601.5 390.7L597.3 390.7L592.3 390.7L587.3 391.5L585.7 389.8L588.2 388.2L584.0 385.7L579.0 384.0L574.0 382.3L569.0 380.7L564.0 379.0L560.7 377.7L556.5 379.0L554.0 380.7ZM560.5 382.7L560.2 383.5L559.3 383.8L558.5 383.5L558.2 382.7L558.5 381.8L559.3 381.5L560.2 381.8ZM606.5 391.5L610.7 390.7L615.7 391.5L620.7 392.3L625.7 394.0L629.0 396.5L630.7 399.3L627.3 399.0L622.3 399.0L619.0 399.8L615.7 402.3L613.2 399.8L609.0 398.2L604.8 399.8L600.7 399.0L602.3 397.3L606.5 397.7L610.7 397.0L609.0 394.0ZM581.5 399.0L585.7 397.8L590.7 399.0L592.0 400.7L587.3 401.5L583.2 400.7ZM636.5 397.8L642.3 397.3L644.0 399.0L641.5 400.3L637.0 399.8ZM514.0 398.2L517.3 396.5L521.5 391.5L523.2 385.7L529.0 383.7L535.7 382.7L540.3 383.7L539.0 389.0L536.5 394.8L534.0 399.8L532.3 405.7L529.8 409.8L532.3 412.3L539.0 411.5L547.3 410.7L554.0 413.2L558.2 416.5L557.3 422.3L556.5 429.0L556.0 436.0L557.0 440.0M514.0 417.3L519.0 419.0L525.7 422.3L532.3 424.8L535.0 423.8L537.0 426.3L540.2 430.3L543.2 434.3L545.2 439.7M682.7 120.0L690.3 124.3L693.5 128.7L691.8 132.5L694.3 135.0L692.7 136.7L696.0 138.0L702.7 136.7L706.0 138.3L712.7 140.0L714.3 142.0L709.3 141.7L701.0 140.8L698.5 142.5L696.8 145.8L701.0 147.5L707.7 148.0L712.7 145.8L716.0 145.8L717.7 149.2L716.0 151.7L709.3 152.5L704.3 155.0L702.7 160.0L704.3 164.2L709.3 167.5L711.8 171.7L714.3 175.8L719.3 180.0L724.3 185.0L731.0 189.2L739.3 190.8L745.5 193.0M82.8 137.5L88.7 137.0L94.5 138.3L90.3 139.7L85.3 140.3L82.8 140.3M82.8 149.7L88.7 151.3L95.3 153.3L102.0 155.3L108.7 158.3L115.3 159.7L122.8 159.7L127.8 161.7L132.0 164.2L128.7 165.8L123.7 166.7L120.3 167.5L117.8 171.7L116.2 173.0L112.0 171.7L107.0 170.0L102.0 167.5L97.0 165.8L92.0 166.7L88.7 165.0L87.0 163.3L84.5 164.2L85.3 166.7L83.7 168.3L82.8 167.5M351.8 133.5L358.0 129.2L358.5 124.2L378.0 123.0L393.0 128.0L401.0 129.5L388.0 133.0L381.8 136.8L373.0 137.5L363.0 139.2L355.5 136.8ZM442.5 332.0L446.7 335.8L451.7 339.2L455.0 343.3L459.2 345.8L462.5 343.3L466.7 342.0L472.0 343.3M380.0 124.0L389.1 124.0L395.2 126.1L401.2 127.6L398.2 128.6L392.1 129.6L386.1 131.1L382.0 133.6L383.0 136.2L386.1 137.7L388.1 139.7L392.1 140.7L398.2 141.2L405.3 141.4L410.3 141.7L412.8 142.4L409.3 143.2L403.2 143.7L397.2 144.0L393.6 144.7L394.1 146.8L397.2 148.3L400.2 149.3L404.2 150.3L407.8 149.1L410.3 151.3L415.4 150.8L422.4 150.3L428.5 149.8L433.5 148.8L438.6 147.8L444.6 147.1L448.7 147.8L453.7 149.3L460.0 150.3M401.2 127.6L407.3 128.1L409.3 130.1L411.3 131.1L415.4 130.1L420.4 129.6L425.5 130.1L430.5 130.6L434.5 131.6L437.1 131.1L439.6 129.1L442.6 127.1L446.7 126.3L451.7 126.6L454.7 127.6L452.7 129.6L449.7 131.6L448.7 132.6L450.7 134.1L452.2 136.2L452.7 139.2L456.8 140.7L460.0 141.7M380.0 148.6L386.1 149.1L392.1 149.9L397.2 150.3L400.2 151.1L405.3 152.3L402.2 153.3L400.2 154.8L403.2 155.6L408.3 155.4L413.3 154.8L418.4 154.3L423.4 153.8L428.5 154.8L432.5 155.6L436.1 155.2L435.1 153.8L431.5 152.8L437.6 151.1L444.6 150.1L450.7 150.8L460.0 153.3M403.2 120.5L407.3 121.8L412.3 122.2L418.4 121.5L422.4 120.5M461.1 130.1L465.1 129.6L470.2 129.6L472.2 129.1L469.1 128.1L468.6 126.6L471.2 125.3L476.2 125.1L481.3 124.8L486.3 124.2L488.8 125.6L488.3 127.3L485.3 128.6L487.3 129.6L490.4 130.1L492.9 131.6L493.9 133.6L492.4 135.2L488.3 136.2L484.3 137.2L481.3 138.2L478.2 137.2L474.2 135.7L470.2 134.1L466.1 133.1L463.6 131.6ZM535.0 151.3L533.8 150.3L530.8 149.3L527.7 148.8L525.7 150.3L523.7 150.8L519.6 148.8L515.6 147.3L512.6 146.1L515.6 145.3L517.6 143.7L515.6 141.7L512.6 140.2L509.5 138.7L506.5 137.2L504.0 135.7L505.5 134.1L504.5 132.6L507.5 131.6L511.6 131.1L515.6 130.1L518.6 128.6L521.7 127.1L523.2 125.6L519.6 124.5L514.6 124.2L508.5 124.2L502.5 124.5L497.4 125.1L496.9 127.6L498.4 130.1L499.4 133.1L499.4 136.2L497.4 137.7L494.4 138.7L492.4 140.7L491.4 142.7L494.4 144.2L498.4 145.8L502.5 146.8L504.5 147.8L503.5 149.8L502.5 151.8L499.4 152.8L497.4 154.8L495.4 156.4L492.4 155.6L490.4 154.3L491.9 152.3L495.4 151.3L496.4 149.8L493.4 148.3L489.3 146.8L486.3 145.8L483.3 146.8L480.3 148.8L477.7 149.8L481.3 150.8L484.8 152.1L482.3 153.3L481.3 155.9L477.2 155.6L472.2 155.2L467.1 154.8L462.1 153.8L458.0 152.8L455.0 152.3M455.0 140.7L459.0 141.7L464.1 142.7L469.1 143.2L471.7 144.2L470.2 146.1L466.1 146.5L467.6 147.8L464.1 148.8L460.1 149.5L455.0 150.3M535.0 126.6L531.8 127.6L527.7 129.6L524.7 132.1L524.2 135.2L526.7 137.2L530.8 139.2L535.0 141.2M493.4 120.0L497.4 120.8L502.5 121.2L505.5 120.8M515.6 120.5L520.7 121.2L527.7 121.8L535.0 122.2M564.8 228.3L568.2 227.0L569.8 228.7L567.3 230.3L564.8 229.7ZM555.7 182.5L559.8 180.3L563.2 180.8L560.7 182.8L556.5 183.7ZM573.2 183.3L575.7 182.5L577.0 184.7L574.8 186.7L573.2 185.3ZM532.3 150.0L534.0 154.2L539.0 157.5L544.0 156.7L546.5 152.5L547.3 150.0M490.7 150.0L491.5 154.2L495.7 156.7L500.7 154.2L503.2 150.0M592.5 270.0L596.7 267.8L603.3 266.2L608.3 263.7L613.3 260.3L617.5 258.3L623.3 252.8L629.2 248.7L632.0 246.7M620.0 258.7L625.0 254.5L630.0 250.7L632.0 249.5M619.2 282.0L622.5 282.0L623.3 284.0L621.7 285.3M601.7 290.7L606.7 288.7L611.7 287.0L615.0 286.2M566.7 232.0L570.0 235.3L574.2 237.8L578.3 235.3L581.7 232.0M530.0 123.5L536.1 123.5L545.2 123.0L555.3 122.5L563.3 122.2L570.4 121.5L573.4 120.5M530.0 128.6L534.0 127.1L539.1 126.3L545.2 126.3L550.2 126.1L556.3 125.9L562.3 126.1L566.9 126.9L567.9 128.6L566.9 130.1L568.9 131.6L568.4 133.6L570.4 132.6L575.5 132.1L580.5 131.9L586.6 131.3L590.6 131.1L595.7 131.9L600.7 132.3L602.7 134.1L603.7 136.0L610.0 136.2M546.7 136.2L545.2 135.2L542.6 134.6L541.6 132.1L542.6 129.6L546.2 127.6L550.2 126.9L552.2 127.3L549.2 128.6L546.7 130.1L545.7 132.6L546.2 135.2ZM569.9 127.1L574.4 126.3L580.5 126.1L586.6 126.6L590.1 127.6L591.1 129.6L588.6 130.6L583.5 130.9L577.5 130.6L572.4 130.1L569.9 129.1ZM530.0 138.7L534.0 140.7L539.1 142.7L544.1 144.2L546.7 145.3L553.2 144.7L559.3 145.8L564.3 145.5L569.4 146.1M546.7 145.3L546.7 149.3L546.2 153.3L542.1 154.8L540.1 156.9L537.6 158.2L534.5 156.9L534.0 154.3L534.5 151.3L532.0 149.8L530.0 148.8M559.3 145.8L560.3 147.8L564.3 148.3L567.4 149.3L566.9 151.3L563.3 152.3L561.8 153.8L564.3 155.4L566.9 156.9L566.4 160.0M570.0 145.1L574.0 145.6L578.1 145.1L582.1 143.3L585.2 144.6L589.2 146.6L592.7 148.1L593.4 150.7L595.3 150.2L598.3 149.6L602.3 151.7L606.4 153.7L609.4 155.2L610.9 158.2L608.4 159.7L605.4 161.3L602.3 162.5L600.3 163.3L602.3 164.8L603.8 165.8L601.3 167.1L597.3 167.3L593.2 167.5L589.2 167.3L585.2 167.5L582.1 168.8L580.6 170.9L583.1 172.9L587.2 173.4L591.2 172.6L594.2 171.6L598.3 172.2L603.3 173.2L608.4 174.2L612.4 175.0M587.2 156.2L588.7 154.2L592.2 153.4L596.3 153.7L598.8 155.2L597.8 157.2L594.7 158.4L590.7 158.4L588.2 157.7ZM650.8 244.2L655.8 243.3L661.7 245.0L664.2 246.7L660.0 247.5L654.2 246.3ZM620.0 256.7L623.3 253.3L628.3 250.0L635.0 247.5L641.7 246.7L647.5 247.5L650.8 250.0L649.2 252.5L645.0 253.0L641.7 253.3L642.5 255.8L646.7 255.0L650.0 256.7L651.7 260.0L655.8 261.7L660.0 260.8M650.8 259.2L655.8 260.3L660.8 260.8L657.5 262.5L652.5 261.7Z" fill="none" stroke="#000" stroke-width="0.75" stroke-linejoin="round" stroke-linecap="round"/>
<path d="M514.0 342.3L509.2 341.7L505.0 342.0L500.0 343.7L495.0 346.3L490.8 349.2L488.0 352.5L486.7 356.7L487.5 361.7M377.0 296.3L377.2 297.2M402.5 311.0L405.0 310.0M620.8 282.5L622.5 285.8" fill="none" stroke="#000" stroke-width="1.5" stroke-linejoin="round" stroke-linecap="round"/>
<path d="M511.7 342.5L516.7 343.7L521.7 345.0L526.7 344.7L529.2 342.5L526.7 340.8L523.3 340.0L528.3 339.2L535.0 339.7L541.7 339.2L546.7 340.8L551.7 341.7L555.0 340.8L558.3 343.3L560.8 347.5L560.8 351.7L562.5 355.8L565.0 360.0L568.3 364.2L570.0 365.8L565.8 368.0" fill="none" stroke="#000" stroke-width="1.3" stroke-linejoin="round" stroke-linecap="round"/>
<path d="M570.0 365.8L571.7 362.5L572.0 358.3L570.8 353.3L569.2 348.3L567.5 343.3L566.3 339.2L565.8 336.5L566.2 334.0M582.3 365.7L584.0 369.8L584.8 372.0M604.8 384.8L607.3 385.7M375.3 322.5L376.3 322.7M378.8 325.0L379.7 325.2M384.3 325.7L385.0 326.3M591.3 297.8L590.0 302.0L590.8 306.2L590.0 310.3L591.7 313.7M594.2 297.0L593.3 300.3L594.7 302.8" fill="none" stroke="#000" stroke-width="1.2" stroke-linejoin="round" stroke-linecap="round"/>
<path d="M521.7 340.7L524.0 342.3L527.3 341.3L529.8 343.7L526.5 345.0L523.7 343.7L528.2 345.7L522.3 344.7" fill="none" stroke="#000" stroke-width="1.4" stroke-linejoin="round" stroke-linecap="round"/>
<path d="M578.2 357.3L582.3 356.5L585.7 357.3L587.3 359.8L585.7 361.0M589.0 363.2L592.3 364.8M594.0 367.3L596.5 369.8M194.5 385.0L197.8 386.3L200.0 387.5L198.7 386.5M352.6 163.3L358.9 162.0L365.2 161.1L371.5 160.1L376.6 159.5L382.2 159.8L379.1 161.4L382.9 162.4L388.6 162.4L385.4 165.8L380.4 166.2L376.6 167.7L373.4 170.2L372.1 168.9L369.6 168.3L365.8 169.6L362.0 169.2L363.9 167.0L368.4 165.2L365.2 164.1L358.9 163.6ZM391.7 188.1L396.8 187.6L399.9 186.0L401.8 183.1L404.3 182.6L408.1 183.8L413.2 183.1L418.2 180.9L423.3 180.1L430.2 180.3L425.8 181.8L420.8 182.6L416.3 184.7L411.9 185.6L407.5 186.6L404.3 188.5L400.6 189.4L396.1 189.4ZM461.7 205.0L466.0 203.3L466.7 206.7L463.3 211.7L460.7 211.0ZM632.0 269.5L628.3 271.2L625.0 273.7L622.5 276.2L619.2 278.7L623.3 282.8L622.5 286.2L619.2 285.3L615.0 286.2L610.0 287.8L605.0 289.5L601.7 290.7L600.0 292.8M601.7 290.3L605.0 288.3L610.0 287.0L616.7 285.0L622.5 283.7M533.1 255.6L535.6 255.0L531.9 256.9M517.5 256.2L522.5 254.8L527.5 252.5L531.9 250.6L527.5 253.5L522.5 255.6M535.6 266.9L534.4 269.4M691.7 235.3L689.2 238.3L686.7 243.3L684.2 247.5L680.8 250.8L676.7 252.5L675.0 254.7L678.3 255.3L685.0 254.7L691.7 255.0L695.0 255.8L692.5 258.3L696.7 257.5L700.8 255.8L702.5 258.3L705.0 259.2L706.7 256.7L705.8 253.3L703.3 252.5L704.2 250.0L701.7 247.5L698.3 245.8L695.0 245.0L691.7 244.2L689.2 243.3L690.8 240.0L693.3 236.7Z" fill="none" stroke="#000" stroke-width="0.9" stroke-linejoin="round" stroke-linecap="round"/>
<path d="M662.7 408.2L664.0 409.3L663.3 410.3M666.3 416.5L667.3 417.8M574.0 212.0L577.3 210.3L578.2 213.3L575.7 214.7ZM535.6 266.9L537.5 265.0L541.2 263.8L545.0 263.1L548.1 263.1L546.2 265.0L543.8 266.9L542.5 270.0L541.9 273.8L542.2 277.5L541.9 281.2L540.0 283.5L536.9 284.0L535.6 281.2L535.0 276.9L535.0 272.5L535.6 268.8ZM548.1 263.1L552.5 262.5L557.5 262.5L562.5 263.1L567.5 263.8L571.2 265.0L573.8 268.1L573.1 270.0L570.0 269.4L567.5 266.9L565.0 265.6L566.2 268.8L565.6 271.9L563.8 275.0L561.9 278.1L560.0 280.0L558.8 278.1L560.0 275.0L558.8 272.5L556.2 274.4L554.4 273.1L556.2 271.2L556.9 268.1L555.0 265.6L551.9 264.4L549.4 265.0ZM556.9 283.1L560.0 281.2L564.4 280.0L568.8 278.8L573.1 277.5L576.9 277.2L578.1 278.5L575.0 280.0L570.6 281.2L566.2 283.1L561.9 284.4L558.1 284.8ZM574.4 276.2L577.5 274.4L582.5 273.5L587.5 272.8L591.2 271.9L592.5 273.1L588.8 274.4L584.4 275.6L580.0 276.5L576.2 277.2ZM636.7 268.3L631.7 270.8L626.7 272.5L623.3 273.3L620.0 275.0" fill="none" stroke="#000" stroke-width="1.0" stroke-linejoin="round" stroke-linecap="round"/>
<path d="M179.5 381.3L182.0 380.0L183.7 380.8L182.0 381.7M505.0 248.8L508.8 250.0L512.5 251.2L517.5 252.5L522.5 253.1" fill="none" stroke="#000" stroke-width="0.7" stroke-linejoin="round" stroke-linecap="round"/>
<path d="M191.3 383.3L191.0 384.0L190.3 384.3L189.6 384.0L189.3 383.3L189.6 382.6L190.3 382.3L191.0 382.6ZM200.7 390.0L205.7 393.0L202.0 395.8L200.3 393.0ZM290.0 200.0L295.0 202.5L300.0 205.0L302.5 200.8L304.2 202.5L303.3 205.8L305.8 209.2L308.3 207.5L310.8 205.8L312.5 208.0L310.0 210.0L313.3 212.5L316.7 214.2L317.5 217.5L315.8 219.2L320.8 220.0L325.0 219.2L327.5 218.3L325.8 221.7L325.0 224.2L329.2 227.5L333.3 230.8L336.7 234.2L340.0 237.5L344.2 240.0L350.0 243.3L356.7 245.8L361.7 247.5L364.2 249.2L365.0 252.5L364.2 255.8L362.5 256.7L361.7 253.3L360.0 251.7L355.8 251.7L354.2 253.3L355.8 256.7L356.7 261.7L357.5 266.7L356.7 272.0M312.5 223.3L315.8 222.5L318.3 224.2L320.0 227.5L322.5 232.5L320.8 233.0L317.5 229.2L314.2 225.8ZM336.7 240.0L340.0 238.7L345.0 240.0L350.8 242.5L356.7 245.3L360.8 247.5L362.5 250.0L358.3 249.7L353.3 248.0L347.5 245.8L341.7 243.3L337.5 241.7ZM421.4 199.2L425.8 196.1L430.2 195.7L434.6 196.5L438.4 197.3L433.4 198.6L428.3 199.2L423.9 200.5ZM402.5 335.3L403.3 334.2L405.8 333.0L409.2 334.2L410.0 335.3M480.0 225.0L485.0 224.3L489.3 230.0L492.7 236.7L493.3 241.0L489.3 240.0L485.0 233.3L481.7 228.3ZM470.0 228.3L474.0 227.7L478.3 233.3L482.7 241.0L480.0 242.3L475.0 236.7L471.7 231.7ZM565.7 150.0L567.3 153.3L565.7 157.5L560.7 160.0L555.7 161.7L549.0 160.8L543.2 162.5L540.7 165.8L535.7 169.2L530.7 172.5L524.0 175.0L519.8 178.3L514.8 180.8L509.0 184.2L504.0 188.3L501.5 193.3L501.5 197.5L504.0 200.0L509.0 200.8L511.5 204.2L514.0 207.5L519.8 207.5L525.7 209.2L532.3 210.8L539.0 213.3L545.7 215.0L552.3 216.7L559.0 217.5L562.3 219.2L561.5 223.3L562.3 227.5L565.7 231.7L570.7 235.0L574.8 237.5L578.2 235.0L580.7 233.3L579.8 228.3L577.3 223.3L575.7 220.0L581.5 217.5L586.5 214.2L589.0 210.0L588.2 205.0L585.7 201.7L582.3 200.0L580.7 198.3L584.0 195.8L585.7 192.5L584.0 189.2L584.8 185.8L583.2 183.3L587.3 181.7L590.0 181.3M540.7 175.8L542.3 171.7L543.7 166.7L547.3 164.2L554.0 166.7L560.7 170.0L567.3 173.3L571.8 175.5L566.5 176.3L559.8 175.0L554.0 175.8L549.8 177.5L545.7 178.0L543.2 175.0ZM592.5 272.2L596.2 270.0L600.0 268.1L604.0 267.2M594.6 439.8L595.7 436.4L600.7 434.7L606.8 432.3L610.8 429.9L613.8 428.3L616.5 429.3L614.8 432.3L613.8 435.4L614.8 438.4L615.9 435.4L618.9 432.3L621.9 429.9L623.3 431.3L627.0 433.3L630.0 436.4L635.1 437.4L641.1 436.8L646.2 438.8L651.2 437.0L657.3 436.8L659.3 439.8M662.9 439.8L662.9 436.4L666.6 436.4L666.6 439.8M626.6 428.7L628.6 429.5M603.3 135.8L611.7 137.5L620.0 139.2L628.3 141.7L634.2 144.2L635.0 147.0L632.5 148.3L633.3 151.7L638.3 152.5L645.0 154.2L651.7 155.8L658.3 158.3L664.2 160.8L661.7 164.2L658.3 166.7L653.3 169.2L648.3 167.5L643.3 165.0L639.2 163.3L636.7 164.2L635.8 166.7L640.0 169.2L645.0 170.8L649.2 174.2L650.0 177.5L646.7 179.7L641.7 178.3L636.7 176.7L631.7 175.3L628.7 175.0L631.7 177.5L636.7 180.8L640.8 183.3L640.0 184.5L635.0 183.3L630.0 181.3L625.0 179.7L620.0 178.3L615.0 176.7L610.0 175.0L605.0 173.7L600.0 172.5L595.0 172.0L590.0 172.5M590.0 180.8L595.0 180.8L600.0 181.0L606.7 181.7L612.5 183.7L615.8 187.5L620.0 189.2L624.2 190.0L625.8 194.2L627.5 198.3L631.7 201.7L635.0 203.0L640.0 200.8L645.0 197.5L647.5 193.3L650.0 192.5L653.3 195.8L656.7 200.0L660.0 203.3L663.3 206.7L664.2 210.8L666.7 213.3L671.7 215.8L676.7 218.3L680.8 220.8L683.3 220.0L684.2 222.5L688.3 225.8L690.8 229.2L691.7 233.3L690.0 235.8L685.0 237.0M623.3 190.0L625.8 195.0L630.0 199.2L635.0 202.5L640.0 201.7L645.0 197.5L645.8 194.2L649.2 192.5L653.3 195.0L658.3 200.0L662.5 205.0L665.0 207.5L664.2 211.7L668.3 214.2L671.7 217.5L676.7 219.2L681.7 221.7L684.2 220.8L685.8 224.2L690.0 225.8L692.5 229.2L693.0 233.3L691.7 235.3L686.7 235.0L681.7 237.5L676.7 240.0L671.7 241.7L665.0 242.0L658.3 241.7L651.7 241.3L645.0 242.0L638.3 243.3L631.7 245.8L626.7 249.2L622.5 252.5L620.0 255.0M642.5 255.8L645.0 258.3L649.2 260.8L653.3 262.5L658.3 263.3L662.5 262.5L666.7 260.0L669.2 258.0L670.0 260.8L672.0 262.5L668.3 264.2L664.2 265.8L660.0 267.5L655.8 268.3L651.7 270.0L648.3 272.5L645.0 274.2L641.7 273.3L642.5 270.0L645.8 267.5L649.2 265.8L646.7 265.0L641.7 266.3L637.5 267.5L636.7 268.3" fill="none" stroke="#000" stroke-width="0.8" stroke-linejoin="round" stroke-linecap="round"/>
<path d="M363.3 250.0L365.3 251.3L365.3 255.3L363.7 257.0L363.0 253.3ZM364.7 302.5L366.3 305.0" fill="none" stroke="#000" stroke-width="1.8" stroke-linejoin="round" stroke-linecap="round"/>
<path d="M356.2 268.3L355.8 270.0L355.3 276.7L356.7 282.5L355.8 288.3L358.3 293.3L360.8 297.5L363.3 300.8L365.8 303.3L365.0 305.0L367.5 307.5L370.0 311.7L372.5 315.8L374.2 319.2L377.5 320.0L380.0 320.8L383.3 321.7L386.7 323.3L390.0 325.8L393.3 328.3L395.0 332.5L395.3 334.0M513.1 259.4L517.5 256.2L522.5 253.1L527.5 250.6L531.9 248.5L536.2 248.1L541.2 249.0L543.8 251.9L546.9 253.8L550.0 253.1L551.2 256.2L552.5 259.4L550.0 260.6L546.2 260.0L542.5 260.0L538.8 258.8L535.6 256.9L533.1 255.6L535.0 256.9L531.9 258.8L528.8 258.8L525.0 258.8L521.2 259.4L517.5 260.0L515.0 260.6Z" fill="none" stroke="#000" stroke-width="1.1" stroke-linejoin="round" stroke-linecap="round"/>
<path d="M414.8 287.0L414.3 287.1L413.7 286.7L413.2 286.1L413.2 285.7L413.7 285.6L414.3 286.0L414.8 286.5Z" fill="none" stroke="#000" stroke-width="2.4" stroke-linejoin="round" stroke-linecap="round"/>
<path d="M600.0 292.8L598.3 296.2L596.7 298.7L594.2 300.3L595.8 295.3L595.0 292.8L592.5 295.3L591.7 298.7L590.8 303.7L591.7 307.0L594.2 310.3L595.0 313.7L592.5 315.3L590.0 314.5L590.8 317.0L588.3 318.7L585.0 322.0L580.0 324.5L575.0 327.0L571.7 329.5L568.3 332.0L566.7 334.0" fill="none" stroke="#000" stroke-width="1.25" stroke-linejoin="round" stroke-linecap="round"/>
<path d="M506.5 248.5L508.8 249.8" fill="none" stroke="#000" stroke-width="2.0" stroke-linejoin="round" stroke-linecap="round"/>
<path d="M361.2 247.9L499.5 247.9L499.5 246.0L501.2 246.4L502.2 249.4L506.1 250.1L509.1 249.8L513.0 251.6L517.9 252.5L520.9 251.8L526.7 252.8M357.8 261.4L360.7 261.7L362.7 262.2L363.7 264.4L366.6 264.9L371.5 264.5L375.0 264.0L379.4 263.0L382.3 262.6L392.5 262.6M392.0 247.9L392.0 260.6L392.5 262.6M392.5 262.6L394.1 264.6L393.4 267.1L391.2 270.3L392.4 272.0L392.0 273.5L392.0 282.3M356.8 282.3L421.4 282.3M377.4 282.3L377.4 297.0L403.8 316.7M406.7 282.3L406.7 310.8L404.9 311.3L403.2 311.5L403.8 316.7L404.2 319.1L405.9 320.6L404.4 322.6L403.4 324.5L404.2 326.5L403.4 327.9M391.6 328.8L403.4 327.9L402.9 329.0L421.3 334.7L435.3 334.7L435.3 332.5L443.6 332.5M406.7 306.9L502.1 306.9M421.4 282.3L421.4 287.2L431.2 287.2M431.2 287.2L431.2 334.7M421.4 282.3L421.4 270.0L419.2 269.5L415.2 270.0L412.8 270.5L411.6 269.5L409.6 267.8L409.3 266.1L407.1 264.1L405.2 265.1L404.2 264.6L405.2 259.5L402.5 257.7L400.5 256.5L398.3 255.0L396.8 252.8L396.8 247.9M421.4 267.6L455.8 267.6M421.4 270.0L421.4 267.6M455.8 247.9L455.8 287.2M431.2 287.2L465.6 287.2L465.6 306.9M465.6 292.1L498.7 292.1M455.8 262.9L492.6 262.9M455.8 277.4L483.0 277.4L485.5 278.5L488.9 278.1L491.9 279.3L493.1 279.8M489.3 247.9L489.9 252.8L491.4 257.7L491.6 259.7L492.6 262.9L491.1 264.6L493.1 266.1L493.1 274.9L492.4 276.9L493.1 279.8L494.8 283.8L495.8 286.2L496.0 289.2L498.7 292.1L500.7 293.1L502.2 296.5L502.1 309.3M493.1 274.9L518.8 274.9M496.4 289.3L516.3 289.2L517.8 290.3M502.1 309.3L524.0 309.3L523.0 311.8L526.3 311.8M502.1 309.3L503.0 314.7L502.8 323.4M460.9 306.9L460.9 309.3L475.7 309.3L475.7 318.8L477.6 319.6L479.6 320.4L482.5 320.9L485.0 321.1L487.4 322.1L489.4 322.6L491.4 322.3L493.3 322.8L496.3 322.3L498.7 322.1L502.8 323.4L504.9 323.8L504.9 331.4L506.1 333.4L507.4 335.3L506.6 338.3L506.6 340.7L505.9 342.7M460.7 309.3L460.6 331.4L443.1 331.4L443.6 332.5M504.9 326.5L519.0 326.5M513.5 259.5L513.5 262.2L510.8 264.6L511.3 268.1L513.5 269.8L515.4 271.0L518.4 273.2L518.8 274.9L519.4 278.6L521.6 279.8L523.8 283.3L522.3 284.8L519.6 286.0L519.4 288.2L517.8 290.3L517.4 292.1L518.9 295.1L521.3 297.3L523.8 298.0L523.8 300.0L526.3 302.9L527.2 305.4L529.0 306.9L528.2 308.8L527.0 310.0L526.3 311.8L526.3 312.8L524.3 315.7L523.3 317.4L521.8 319.6L519.9 322.6L519.1 325.0L519.0 326.5L519.4 329.0L520.1 330.4L517.9 333.4L516.9 336.3L526.1 336.3L525.5 338.0L526.7 340.3M522.8 259.9L529.2 262.2L534.1 263.1L535.6 265.8L536.6 267.1M521.6 279.8L535.6 279.8M536.9 283.5L536.9 295.3L536.6 298.5L534.8 301.0L534.4 302.9M529.0 306.9L532.1 306.4L534.4 302.9L537.1 302.4L539.5 302.4L542.0 301.9L544.4 301.9L545.9 300.5L547.4 298.5L550.1 296.5L551.8 296.5L553.3 298.0L556.2 298.8L559.2 298.5L561.1 299.7L563.1 299.0L565.3 296.0L568.0 295.1L569.6 293.3L571.3 289.0M538.5 283.5L550.3 283.5L557.0 283.6M550.2 283.5L550.2 296.5M571.3 280.8L571.3 293.5L576.5 293.5M571.3 293.5L594.6 293.5L595.5 293.0L596.5 293.1M527.2 309.3L534.4 309.3L534.4 308.6L555.8 308.8L565.6 308.9L594.2 309.1M565.6 308.9L564.1 311.3L561.1 311.8L558.7 313.0L555.7 314.0L552.8 315.7L552.7 316.7M523.3 316.7L558.6 316.7M533.6 316.7L534.1 317.2L532.3 331.9L532.6 339.3M546.4 316.7L548.5 327.1L549.3 329.9L549.1 333.6L549.3 336.3M536.6 339.8L536.6 336.3L549.3 336.3L550.0 337.8L563.1 338.4L563.8 339.5L564.1 337.6L566.5 337.7M558.6 316.7L557.4 318.2L559.7 319.4L562.1 322.1L564.6 324.5L566.5 326.5L568.0 329.0L569.5 331.2M558.6 316.7L562.1 315.7L568.7 315.9L569.3 316.2L570.1 317.6L575.5 317.7L581.0 322.2M555.8 308.8L558.7 307.3L562.6 305.4L564.2 304.2L561.1 301.1L561.1 299.7M564.2 304.2L568.0 305.6L572.4 304.4L573.9 301.9L575.6 299.0L577.8 299.5L579.5 298.0L582.0 295.1L584.6 296.4L585.1 295.5M576.5 293.5L576.5 296.0L579.8 294.1L582.7 293.6L585.1 295.5L587.7 297.3L588.4 298.0L587.4 300.0L589.1 300.7L592.1 302.2M594.6 293.5L595.0 299.7L598.2 299.7M596.5 293.1L598.2 292.1L599.7 291.1L597.5 288.7L598.2 287.2L599.9 285.4L596.7 282.3L575.1 282.3L575.1 281.0M599.9 285.4L603.9 287.2M606.6 267.5L606.6 271.5L606.2 274.4L607.1 274.7L607.0 278.6L605.8 282.1L605.9 285.7L604.7 286.7L605.1 287.2M599.9 267.6L615.7 267.5L616.1 266.3L618.8 266.3L619.1 265.6L621.1 263.9L621.8 261.2L622.8 260.7L626.8 255.5L627.7 256.3L628.4 256.9L631.4 256.0L633.8 257.4L633.9 263.1L635.5 264.6L635.5 266.6L637.8 268.1M599.9 267.6L597.0 268.3L592.1 271.5M615.7 267.5L615.2 270.0L613.0 272.0L611.2 275.4L610.5 278.7M607.0 278.6L616.6 278.9L618.4 278.0L619.1 278.0M619.6 277.0L618.2 275.4L618.0 269.0L617.7 266.1M605.8 282.1L614.2 282.2L616.2 282.2L616.2 282.8L617.6 284.8M614.2 282.2L614.2 285.2L613.9 285.6" fill="none" stroke="#000" stroke-width="0.65" stroke-linejoin="round"/>
</g>
<g stroke="#000" stroke-width="1.05" fill="none">
<rect x="82.7" y="120.2" width="662.8" height="319.4"/>
<path d="M82.7 120.2v-11M82.7 439.6v11M230.1 120.2v-11M230.1 439.6v11M377.4 120.2v-11M377.4 439.6v11M524.8 120.2v-11M524.8 439.6v11M672.1 120.2v-11M672.1 439.6v11M82.7 341.2h-11.5M745.5 341.2h11.5M82.7 193.9h-11.5M745.5 193.9h11.5"/>
<path d="M131.8 120.2v-5.5M131.8 439.6v5.5M180.9 120.2v-5.5M180.9 439.6v5.5M279.2 120.2v-5.5M279.2 439.6v5.5M328.3 120.2v-5.5M328.3 439.6v5.5M426.5 120.2v-5.5M426.5 439.6v5.5M475.7 120.2v-5.5M475.7 439.6v5.5M573.9 120.2v-5.5M573.9 439.6v5.5M623.0 120.2v-5.5M623.0 439.6v5.5M721.3 120.2v-5.5M721.3 439.6v5.5M82.7 439.5h-5.7M745.5 439.5h5.7M82.7 390.4h-5.7M745.5 390.4h5.7M82.7 292.1h-5.7M745.5 292.1h5.7M82.7 243.0h-5.7M745.5 243.0h5.7M82.7 144.8h-5.7M745.5 144.8h5.7" stroke-width="0.65"/>
</g>
<rect x="170.00" y="484.2" width="32.83" height="28.6" fill="#000096"/>
<rect x="202.53" y="484.2" width="32.83" height="28.6" fill="#000aff"/>
<rect x="235.07" y="484.2" width="32.83" height="28.6" fill="#3c82ff"/>
<rect x="267.60" y="484.2" width="32.83" height="28.6" fill="#82b9ff"/>
<rect x="300.13" y="484.2" width="32.83" height="28.6" fill="#96faff"/>
<rect x="332.67" y="484.2" width="32.83" height="28.6" fill="#fff0c3"/>
<rect x="365.20" y="484.2" width="32.83" height="28.6" fill="#ffe164"/>
<rect x="397.73" y="484.2" width="32.83" height="28.6" fill="#ffc800"/>
<rect x="430.27" y="484.2" width="32.83" height="28.6" fill="#ffb400"/>
<rect x="462.80" y="484.2" width="32.83" height="28.6" fill="#ff9600"/>
<rect x="495.33" y="484.2" width="32.83" height="28.6" fill="#ff6900"/>
<rect x="527.87" y="484.2" width="32.83" height="28.6" fill="#ff3200"/>
<rect x="560.40" y="484.2" width="32.83" height="28.6" fill="#e60000"/>
<rect x="592.93" y="484.2" width="32.83" height="28.6" fill="#c80000"/>
<rect x="625.47" y="484.2" width="32.83" height="28.6" fill="#9b2323"/>
<g font-size="10.9" text-anchor="middle">
<text x="202.5" y="530.2">-2</text>
<text x="235.1" y="530.2">-1.5</text>
<text x="267.6" y="530.2">-1</text>
<text x="300.1" y="530.2">-0.5</text>
<text x="332.7" y="530.2">0</text>
<text x="365.2" y="530.2">0.5</text>
<text x="397.7" y="530.2">1</text>
<text x="430.3" y="530.2">1.5</text>
<text x="462.8" y="530.2">2</text>
<text x="495.3" y="530.2">2.5</text>
<text x="527.9" y="530.2">3</text>
<text x="560.4" y="530.2">4</text>
<text x="592.9" y="530.2">5</text>
<text x="625.5" y="530.2">7</text>
</g>
<text x="414.2" y="74" font-size="24.2" font-weight="bold" text-anchor="middle" textLength="465" lengthAdjust="spacingAndGlyphs">ECP2-gfdl Change in Seasonal Avg Temp</text>
<text x="82.2" y="104" font-size="10.6" textLength="18.6" lengthAdjust="spacingAndGlyphs">JJA</text>
<text x="413.5" y="104" font-size="10.6" text-anchor="middle" textLength="145" lengthAdjust="spacingAndGlyphs">2041-2070 minus 1971-2000</text>
<text x="745.6" y="101.8" font-size="11" text-anchor="end" textLength="31.2" lengthAdjust="spacingAndGlyphs">Deg C</text>
<g font-size="14.6" text-anchor="end">
<text x="62" y="199.6">60N</text>
<text x="62" y="346.9">30N</text>
</g>
<g font-size="14.6" text-anchor="middle">
<text x="82.3" y="472.4">180</text>
<text x="229.7" y="472.4">150W</text>
<text x="377.0" y="472.4">120W</text>
<text x="524.4" y="472.4">90W</text>
<text x="671.7" y="472.4">60W</text>
</g>
</svg>
</body></html>
